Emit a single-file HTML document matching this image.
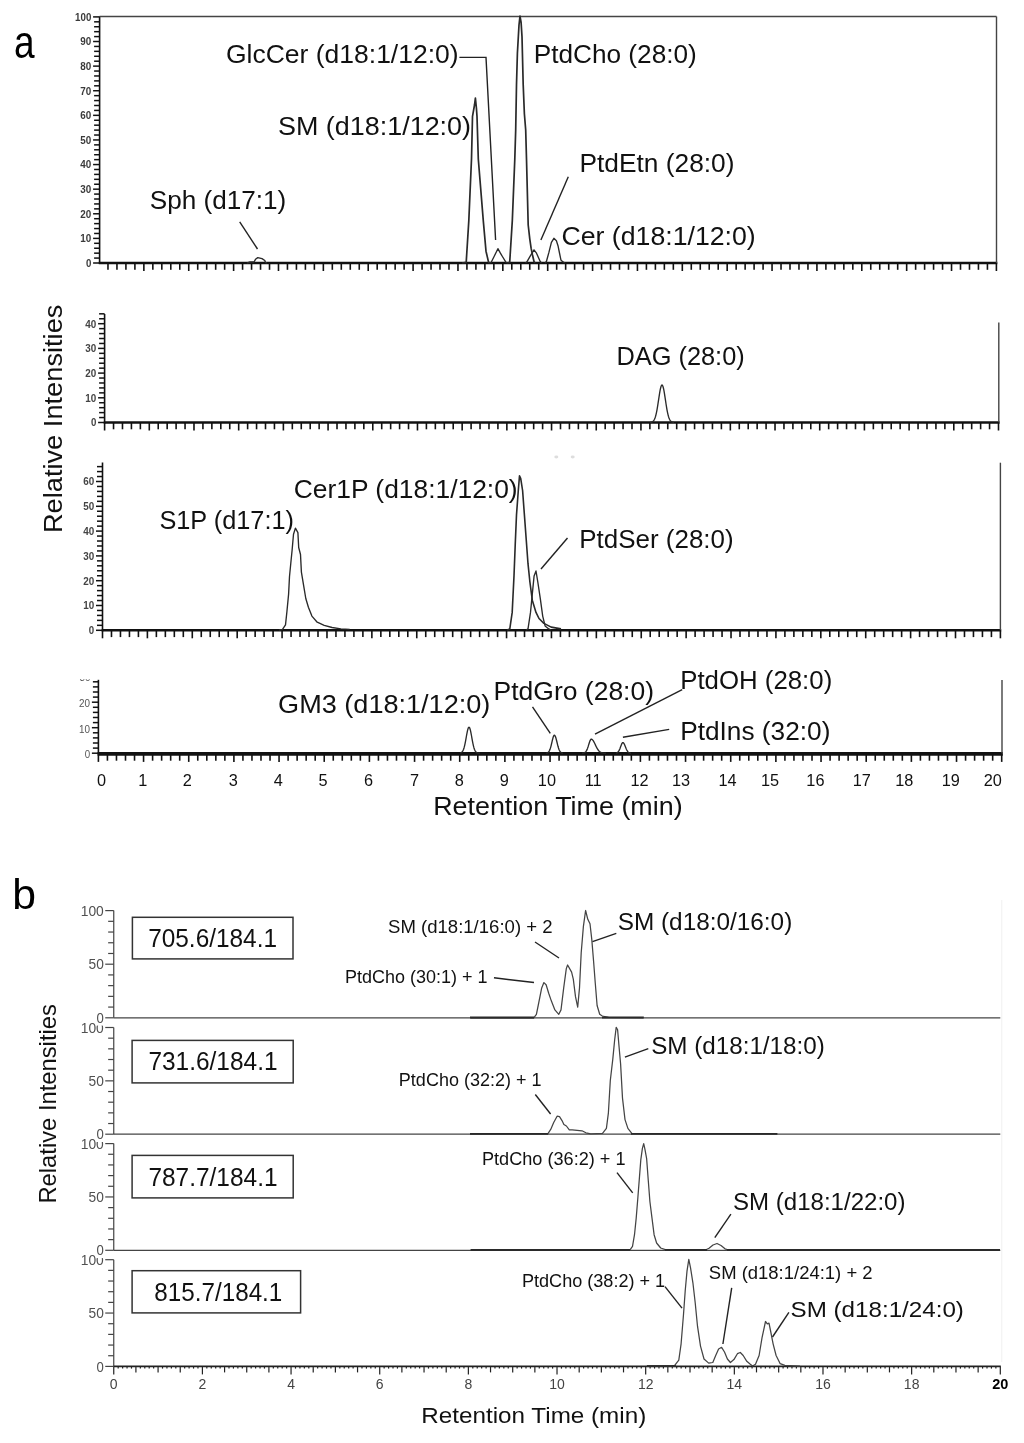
<!DOCTYPE html>
<html><head><meta charset="utf-8"><style>html,body{margin:0;padding:0;background:#fff}svg{display:block;filter:grayscale(100%)}text{font-family:"Liberation Sans",sans-serif}</style></head>
<body><svg width="1024" height="1443" viewBox="0 0 1024 1443">
<rect width="1024" height="1443" fill="#fff"/>
<line x1="99.6" y1="16.5" x2="99.6" y2="264" stroke="#111" stroke-width="1.6"/>
<line x1="98.8" y1="263" x2="997.3" y2="263" stroke="#111" stroke-width="2.6"/>
<line x1="996.5" y1="16.5" x2="996.5" y2="263" stroke="#444" stroke-width="1.4"/>
<line x1="99.6" y1="16.5" x2="996.5" y2="16.5" stroke="#444" stroke-width="1.6"/>
<line x1="107.97" y1="263" x2="107.97" y2="269.8" stroke="#111" stroke-width="1.6"/>
<line x1="116.95" y1="263" x2="116.95" y2="269.8" stroke="#111" stroke-width="1.6"/>
<line x1="125.92" y1="263" x2="125.92" y2="269.8" stroke="#111" stroke-width="1.6"/>
<line x1="134.90" y1="263" x2="134.90" y2="269.8" stroke="#111" stroke-width="1.6"/>
<line x1="143.87" y1="263" x2="143.87" y2="271" stroke="#111" stroke-width="1.6"/>
<line x1="152.84" y1="263" x2="152.84" y2="269.8" stroke="#111" stroke-width="1.6"/>
<line x1="161.82" y1="263" x2="161.82" y2="269.8" stroke="#111" stroke-width="1.6"/>
<line x1="170.79" y1="263" x2="170.79" y2="269.8" stroke="#111" stroke-width="1.6"/>
<line x1="179.77" y1="263" x2="179.77" y2="269.8" stroke="#111" stroke-width="1.6"/>
<line x1="188.74" y1="263" x2="188.74" y2="271" stroke="#111" stroke-width="1.6"/>
<line x1="197.71" y1="263" x2="197.71" y2="269.8" stroke="#111" stroke-width="1.6"/>
<line x1="206.69" y1="263" x2="206.69" y2="269.8" stroke="#111" stroke-width="1.6"/>
<line x1="215.66" y1="263" x2="215.66" y2="269.8" stroke="#111" stroke-width="1.6"/>
<line x1="224.64" y1="263" x2="224.64" y2="269.8" stroke="#111" stroke-width="1.6"/>
<line x1="233.61" y1="263" x2="233.61" y2="271" stroke="#111" stroke-width="1.6"/>
<line x1="242.58" y1="263" x2="242.58" y2="269.8" stroke="#111" stroke-width="1.6"/>
<line x1="251.56" y1="263" x2="251.56" y2="269.8" stroke="#111" stroke-width="1.6"/>
<line x1="260.53" y1="263" x2="260.53" y2="269.8" stroke="#111" stroke-width="1.6"/>
<line x1="269.51" y1="263" x2="269.51" y2="269.8" stroke="#111" stroke-width="1.6"/>
<line x1="278.48" y1="263" x2="278.48" y2="271" stroke="#111" stroke-width="1.6"/>
<line x1="287.45" y1="263" x2="287.45" y2="269.8" stroke="#111" stroke-width="1.6"/>
<line x1="296.43" y1="263" x2="296.43" y2="269.8" stroke="#111" stroke-width="1.6"/>
<line x1="305.40" y1="263" x2="305.40" y2="269.8" stroke="#111" stroke-width="1.6"/>
<line x1="314.38" y1="263" x2="314.38" y2="269.8" stroke="#111" stroke-width="1.6"/>
<line x1="323.35" y1="263" x2="323.35" y2="271" stroke="#111" stroke-width="1.6"/>
<line x1="332.32" y1="263" x2="332.32" y2="269.8" stroke="#111" stroke-width="1.6"/>
<line x1="341.30" y1="263" x2="341.30" y2="269.8" stroke="#111" stroke-width="1.6"/>
<line x1="350.27" y1="263" x2="350.27" y2="269.8" stroke="#111" stroke-width="1.6"/>
<line x1="359.25" y1="263" x2="359.25" y2="269.8" stroke="#111" stroke-width="1.6"/>
<line x1="368.22" y1="263" x2="368.22" y2="271" stroke="#111" stroke-width="1.6"/>
<line x1="377.19" y1="263" x2="377.19" y2="269.8" stroke="#111" stroke-width="1.6"/>
<line x1="386.17" y1="263" x2="386.17" y2="269.8" stroke="#111" stroke-width="1.6"/>
<line x1="395.14" y1="263" x2="395.14" y2="269.8" stroke="#111" stroke-width="1.6"/>
<line x1="404.12" y1="263" x2="404.12" y2="269.8" stroke="#111" stroke-width="1.6"/>
<line x1="413.09" y1="263" x2="413.09" y2="271" stroke="#111" stroke-width="1.6"/>
<line x1="422.06" y1="263" x2="422.06" y2="269.8" stroke="#111" stroke-width="1.6"/>
<line x1="431.04" y1="263" x2="431.04" y2="269.8" stroke="#111" stroke-width="1.6"/>
<line x1="440.01" y1="263" x2="440.01" y2="269.8" stroke="#111" stroke-width="1.6"/>
<line x1="448.99" y1="263" x2="448.99" y2="269.8" stroke="#111" stroke-width="1.6"/>
<line x1="457.96" y1="263" x2="457.96" y2="271" stroke="#111" stroke-width="1.6"/>
<line x1="466.93" y1="263" x2="466.93" y2="269.8" stroke="#111" stroke-width="1.6"/>
<line x1="475.91" y1="263" x2="475.91" y2="269.8" stroke="#111" stroke-width="1.6"/>
<line x1="484.88" y1="263" x2="484.88" y2="269.8" stroke="#111" stroke-width="1.6"/>
<line x1="493.86" y1="263" x2="493.86" y2="269.8" stroke="#111" stroke-width="1.6"/>
<line x1="502.83" y1="263" x2="502.83" y2="271" stroke="#111" stroke-width="1.6"/>
<line x1="511.80" y1="263" x2="511.80" y2="269.8" stroke="#111" stroke-width="1.6"/>
<line x1="520.78" y1="263" x2="520.78" y2="269.8" stroke="#111" stroke-width="1.6"/>
<line x1="529.75" y1="263" x2="529.75" y2="269.8" stroke="#111" stroke-width="1.6"/>
<line x1="538.73" y1="263" x2="538.73" y2="269.8" stroke="#111" stroke-width="1.6"/>
<line x1="547.70" y1="263" x2="547.70" y2="271" stroke="#111" stroke-width="1.6"/>
<line x1="556.67" y1="263" x2="556.67" y2="269.8" stroke="#111" stroke-width="1.6"/>
<line x1="565.65" y1="263" x2="565.65" y2="269.8" stroke="#111" stroke-width="1.6"/>
<line x1="574.62" y1="263" x2="574.62" y2="269.8" stroke="#111" stroke-width="1.6"/>
<line x1="583.60" y1="263" x2="583.60" y2="269.8" stroke="#111" stroke-width="1.6"/>
<line x1="592.57" y1="263" x2="592.57" y2="271" stroke="#111" stroke-width="1.6"/>
<line x1="601.54" y1="263" x2="601.54" y2="269.8" stroke="#111" stroke-width="1.6"/>
<line x1="610.52" y1="263" x2="610.52" y2="269.8" stroke="#111" stroke-width="1.6"/>
<line x1="619.49" y1="263" x2="619.49" y2="269.8" stroke="#111" stroke-width="1.6"/>
<line x1="628.47" y1="263" x2="628.47" y2="269.8" stroke="#111" stroke-width="1.6"/>
<line x1="637.44" y1="263" x2="637.44" y2="271" stroke="#111" stroke-width="1.6"/>
<line x1="646.41" y1="263" x2="646.41" y2="269.8" stroke="#111" stroke-width="1.6"/>
<line x1="655.39" y1="263" x2="655.39" y2="269.8" stroke="#111" stroke-width="1.6"/>
<line x1="664.36" y1="263" x2="664.36" y2="269.8" stroke="#111" stroke-width="1.6"/>
<line x1="673.34" y1="263" x2="673.34" y2="269.8" stroke="#111" stroke-width="1.6"/>
<line x1="682.31" y1="263" x2="682.31" y2="271" stroke="#111" stroke-width="1.6"/>
<line x1="691.28" y1="263" x2="691.28" y2="269.8" stroke="#111" stroke-width="1.6"/>
<line x1="700.26" y1="263" x2="700.26" y2="269.8" stroke="#111" stroke-width="1.6"/>
<line x1="709.23" y1="263" x2="709.23" y2="269.8" stroke="#111" stroke-width="1.6"/>
<line x1="718.21" y1="263" x2="718.21" y2="269.8" stroke="#111" stroke-width="1.6"/>
<line x1="727.18" y1="263" x2="727.18" y2="271" stroke="#111" stroke-width="1.6"/>
<line x1="736.15" y1="263" x2="736.15" y2="269.8" stroke="#111" stroke-width="1.6"/>
<line x1="745.13" y1="263" x2="745.13" y2="269.8" stroke="#111" stroke-width="1.6"/>
<line x1="754.10" y1="263" x2="754.10" y2="269.8" stroke="#111" stroke-width="1.6"/>
<line x1="763.08" y1="263" x2="763.08" y2="269.8" stroke="#111" stroke-width="1.6"/>
<line x1="772.05" y1="263" x2="772.05" y2="271" stroke="#111" stroke-width="1.6"/>
<line x1="781.02" y1="263" x2="781.02" y2="269.8" stroke="#111" stroke-width="1.6"/>
<line x1="790.00" y1="263" x2="790.00" y2="269.8" stroke="#111" stroke-width="1.6"/>
<line x1="798.97" y1="263" x2="798.97" y2="269.8" stroke="#111" stroke-width="1.6"/>
<line x1="807.95" y1="263" x2="807.95" y2="269.8" stroke="#111" stroke-width="1.6"/>
<line x1="816.92" y1="263" x2="816.92" y2="271" stroke="#111" stroke-width="1.6"/>
<line x1="825.89" y1="263" x2="825.89" y2="269.8" stroke="#111" stroke-width="1.6"/>
<line x1="834.87" y1="263" x2="834.87" y2="269.8" stroke="#111" stroke-width="1.6"/>
<line x1="843.84" y1="263" x2="843.84" y2="269.8" stroke="#111" stroke-width="1.6"/>
<line x1="852.82" y1="263" x2="852.82" y2="269.8" stroke="#111" stroke-width="1.6"/>
<line x1="861.79" y1="263" x2="861.79" y2="271" stroke="#111" stroke-width="1.6"/>
<line x1="870.76" y1="263" x2="870.76" y2="269.8" stroke="#111" stroke-width="1.6"/>
<line x1="879.74" y1="263" x2="879.74" y2="269.8" stroke="#111" stroke-width="1.6"/>
<line x1="888.71" y1="263" x2="888.71" y2="269.8" stroke="#111" stroke-width="1.6"/>
<line x1="897.69" y1="263" x2="897.69" y2="269.8" stroke="#111" stroke-width="1.6"/>
<line x1="906.66" y1="263" x2="906.66" y2="271" stroke="#111" stroke-width="1.6"/>
<line x1="915.63" y1="263" x2="915.63" y2="269.8" stroke="#111" stroke-width="1.6"/>
<line x1="924.61" y1="263" x2="924.61" y2="269.8" stroke="#111" stroke-width="1.6"/>
<line x1="933.58" y1="263" x2="933.58" y2="269.8" stroke="#111" stroke-width="1.6"/>
<line x1="942.56" y1="263" x2="942.56" y2="269.8" stroke="#111" stroke-width="1.6"/>
<line x1="951.53" y1="263" x2="951.53" y2="271" stroke="#111" stroke-width="1.6"/>
<line x1="960.50" y1="263" x2="960.50" y2="269.8" stroke="#111" stroke-width="1.6"/>
<line x1="969.48" y1="263" x2="969.48" y2="269.8" stroke="#111" stroke-width="1.6"/>
<line x1="978.45" y1="263" x2="978.45" y2="269.8" stroke="#111" stroke-width="1.6"/>
<line x1="987.43" y1="263" x2="987.43" y2="269.8" stroke="#111" stroke-width="1.6"/>
<line x1="996.40" y1="263" x2="996.40" y2="271" stroke="#111" stroke-width="1.6"/>
<line x1="93.10" y1="263.00" x2="99.6" y2="263.00" stroke="#111" stroke-width="1.5"/>
<line x1="94.10" y1="258.08" x2="99.6" y2="258.08" stroke="#111" stroke-width="1.5"/>
<line x1="94.10" y1="253.16" x2="99.6" y2="253.16" stroke="#111" stroke-width="1.5"/>
<line x1="94.10" y1="248.23" x2="99.6" y2="248.23" stroke="#111" stroke-width="1.5"/>
<line x1="94.10" y1="243.31" x2="99.6" y2="243.31" stroke="#111" stroke-width="1.5"/>
<line x1="93.10" y1="238.39" x2="99.6" y2="238.39" stroke="#111" stroke-width="1.5"/>
<line x1="94.10" y1="233.47" x2="99.6" y2="233.47" stroke="#111" stroke-width="1.5"/>
<line x1="94.10" y1="228.55" x2="99.6" y2="228.55" stroke="#111" stroke-width="1.5"/>
<line x1="94.10" y1="223.62" x2="99.6" y2="223.62" stroke="#111" stroke-width="1.5"/>
<line x1="94.10" y1="218.70" x2="99.6" y2="218.70" stroke="#111" stroke-width="1.5"/>
<line x1="93.10" y1="213.78" x2="99.6" y2="213.78" stroke="#111" stroke-width="1.5"/>
<line x1="94.10" y1="208.86" x2="99.6" y2="208.86" stroke="#111" stroke-width="1.5"/>
<line x1="94.10" y1="203.94" x2="99.6" y2="203.94" stroke="#111" stroke-width="1.5"/>
<line x1="94.10" y1="199.01" x2="99.6" y2="199.01" stroke="#111" stroke-width="1.5"/>
<line x1="94.10" y1="194.09" x2="99.6" y2="194.09" stroke="#111" stroke-width="1.5"/>
<line x1="93.10" y1="189.17" x2="99.6" y2="189.17" stroke="#111" stroke-width="1.5"/>
<line x1="94.10" y1="184.25" x2="99.6" y2="184.25" stroke="#111" stroke-width="1.5"/>
<line x1="94.10" y1="179.33" x2="99.6" y2="179.33" stroke="#111" stroke-width="1.5"/>
<line x1="94.10" y1="174.40" x2="99.6" y2="174.40" stroke="#111" stroke-width="1.5"/>
<line x1="94.10" y1="169.48" x2="99.6" y2="169.48" stroke="#111" stroke-width="1.5"/>
<line x1="93.10" y1="164.56" x2="99.6" y2="164.56" stroke="#111" stroke-width="1.5"/>
<line x1="94.10" y1="159.64" x2="99.6" y2="159.64" stroke="#111" stroke-width="1.5"/>
<line x1="94.10" y1="154.72" x2="99.6" y2="154.72" stroke="#111" stroke-width="1.5"/>
<line x1="94.10" y1="149.79" x2="99.6" y2="149.79" stroke="#111" stroke-width="1.5"/>
<line x1="94.10" y1="144.87" x2="99.6" y2="144.87" stroke="#111" stroke-width="1.5"/>
<line x1="93.10" y1="139.95" x2="99.6" y2="139.95" stroke="#111" stroke-width="1.5"/>
<line x1="94.10" y1="135.03" x2="99.6" y2="135.03" stroke="#111" stroke-width="1.5"/>
<line x1="94.10" y1="130.11" x2="99.6" y2="130.11" stroke="#111" stroke-width="1.5"/>
<line x1="94.10" y1="125.18" x2="99.6" y2="125.18" stroke="#111" stroke-width="1.5"/>
<line x1="94.10" y1="120.26" x2="99.6" y2="120.26" stroke="#111" stroke-width="1.5"/>
<line x1="93.10" y1="115.34" x2="99.6" y2="115.34" stroke="#111" stroke-width="1.5"/>
<line x1="94.10" y1="110.42" x2="99.6" y2="110.42" stroke="#111" stroke-width="1.5"/>
<line x1="94.10" y1="105.50" x2="99.6" y2="105.50" stroke="#111" stroke-width="1.5"/>
<line x1="94.10" y1="100.57" x2="99.6" y2="100.57" stroke="#111" stroke-width="1.5"/>
<line x1="94.10" y1="95.65" x2="99.6" y2="95.65" stroke="#111" stroke-width="1.5"/>
<line x1="93.10" y1="90.73" x2="99.6" y2="90.73" stroke="#111" stroke-width="1.5"/>
<line x1="94.10" y1="85.81" x2="99.6" y2="85.81" stroke="#111" stroke-width="1.5"/>
<line x1="94.10" y1="80.89" x2="99.6" y2="80.89" stroke="#111" stroke-width="1.5"/>
<line x1="94.10" y1="75.96" x2="99.6" y2="75.96" stroke="#111" stroke-width="1.5"/>
<line x1="94.10" y1="71.04" x2="99.6" y2="71.04" stroke="#111" stroke-width="1.5"/>
<line x1="93.10" y1="66.12" x2="99.6" y2="66.12" stroke="#111" stroke-width="1.5"/>
<line x1="94.10" y1="61.20" x2="99.6" y2="61.20" stroke="#111" stroke-width="1.5"/>
<line x1="94.10" y1="56.28" x2="99.6" y2="56.28" stroke="#111" stroke-width="1.5"/>
<line x1="94.10" y1="51.35" x2="99.6" y2="51.35" stroke="#111" stroke-width="1.5"/>
<line x1="94.10" y1="46.43" x2="99.6" y2="46.43" stroke="#111" stroke-width="1.5"/>
<line x1="93.10" y1="41.51" x2="99.6" y2="41.51" stroke="#111" stroke-width="1.5"/>
<line x1="94.10" y1="36.59" x2="99.6" y2="36.59" stroke="#111" stroke-width="1.5"/>
<line x1="94.10" y1="31.67" x2="99.6" y2="31.67" stroke="#111" stroke-width="1.5"/>
<line x1="94.10" y1="26.74" x2="99.6" y2="26.74" stroke="#111" stroke-width="1.5"/>
<line x1="94.10" y1="21.82" x2="99.6" y2="21.82" stroke="#111" stroke-width="1.5"/>
<line x1="93.10" y1="16.90" x2="99.6" y2="16.90" stroke="#111" stroke-width="1.5"/>
<text x="85.90" y="266.90" font-size="10.8" font-weight="700" fill="#3a3a3a" textLength="5.4" lengthAdjust="spacingAndGlyphs">0</text>
<text x="80.30" y="242.29" font-size="10.8" font-weight="700" fill="#3a3a3a" textLength="11.0" lengthAdjust="spacingAndGlyphs">10</text>
<text x="80.30" y="217.68" font-size="10.8" font-weight="700" fill="#3a3a3a" textLength="11.0" lengthAdjust="spacingAndGlyphs">20</text>
<text x="80.30" y="193.07" font-size="10.8" font-weight="700" fill="#3a3a3a" textLength="11.0" lengthAdjust="spacingAndGlyphs">30</text>
<text x="80.30" y="168.46" font-size="10.8" font-weight="700" fill="#3a3a3a" textLength="11.0" lengthAdjust="spacingAndGlyphs">40</text>
<text x="80.30" y="143.85" font-size="10.8" font-weight="700" fill="#3a3a3a" textLength="11.0" lengthAdjust="spacingAndGlyphs">50</text>
<text x="80.30" y="119.24" font-size="10.8" font-weight="700" fill="#3a3a3a" textLength="11.0" lengthAdjust="spacingAndGlyphs">60</text>
<text x="80.30" y="94.63" font-size="10.8" font-weight="700" fill="#3a3a3a" textLength="11.0" lengthAdjust="spacingAndGlyphs">70</text>
<text x="80.30" y="70.02" font-size="10.8" font-weight="700" fill="#3a3a3a" textLength="11.0" lengthAdjust="spacingAndGlyphs">80</text>
<text x="80.30" y="45.41" font-size="10.8" font-weight="700" fill="#3a3a3a" textLength="11.0" lengthAdjust="spacingAndGlyphs">90</text>
<text x="75.10" y="20.80" font-size="10.8" font-weight="700" fill="#3a3a3a" textLength="16.2" lengthAdjust="spacingAndGlyphs">100</text>
<line x1="104.6" y1="314" x2="104.6" y2="423.5" stroke="#111" stroke-width="1.6"/>
<line x1="103.8" y1="422.5" x2="999.5999999999999" y2="422.5" stroke="#111" stroke-width="2.6"/>
<line x1="998.8" y1="322.5" x2="998.8" y2="422.5" stroke="#444" stroke-width="1.4"/>
<line x1="104.60" y1="422.5" x2="104.60" y2="430.5" stroke="#111" stroke-width="1.6"/>
<line x1="113.54" y1="422.5" x2="113.54" y2="429.3" stroke="#111" stroke-width="1.6"/>
<line x1="122.48" y1="422.5" x2="122.48" y2="429.3" stroke="#111" stroke-width="1.6"/>
<line x1="131.42" y1="422.5" x2="131.42" y2="429.3" stroke="#111" stroke-width="1.6"/>
<line x1="140.36" y1="422.5" x2="140.36" y2="429.3" stroke="#111" stroke-width="1.6"/>
<line x1="149.29" y1="422.5" x2="149.29" y2="430.5" stroke="#111" stroke-width="1.6"/>
<line x1="158.23" y1="422.5" x2="158.23" y2="429.3" stroke="#111" stroke-width="1.6"/>
<line x1="167.17" y1="422.5" x2="167.17" y2="429.3" stroke="#111" stroke-width="1.6"/>
<line x1="176.11" y1="422.5" x2="176.11" y2="429.3" stroke="#111" stroke-width="1.6"/>
<line x1="185.05" y1="422.5" x2="185.05" y2="429.3" stroke="#111" stroke-width="1.6"/>
<line x1="193.99" y1="422.5" x2="193.99" y2="430.5" stroke="#111" stroke-width="1.6"/>
<line x1="202.93" y1="422.5" x2="202.93" y2="429.3" stroke="#111" stroke-width="1.6"/>
<line x1="211.87" y1="422.5" x2="211.87" y2="429.3" stroke="#111" stroke-width="1.6"/>
<line x1="220.81" y1="422.5" x2="220.81" y2="429.3" stroke="#111" stroke-width="1.6"/>
<line x1="229.75" y1="422.5" x2="229.75" y2="429.3" stroke="#111" stroke-width="1.6"/>
<line x1="238.68" y1="422.5" x2="238.68" y2="430.5" stroke="#111" stroke-width="1.6"/>
<line x1="247.62" y1="422.5" x2="247.62" y2="429.3" stroke="#111" stroke-width="1.6"/>
<line x1="256.56" y1="422.5" x2="256.56" y2="429.3" stroke="#111" stroke-width="1.6"/>
<line x1="265.50" y1="422.5" x2="265.50" y2="429.3" stroke="#111" stroke-width="1.6"/>
<line x1="274.44" y1="422.5" x2="274.44" y2="429.3" stroke="#111" stroke-width="1.6"/>
<line x1="283.38" y1="422.5" x2="283.38" y2="430.5" stroke="#111" stroke-width="1.6"/>
<line x1="292.32" y1="422.5" x2="292.32" y2="429.3" stroke="#111" stroke-width="1.6"/>
<line x1="301.26" y1="422.5" x2="301.26" y2="429.3" stroke="#111" stroke-width="1.6"/>
<line x1="310.20" y1="422.5" x2="310.20" y2="429.3" stroke="#111" stroke-width="1.6"/>
<line x1="319.14" y1="422.5" x2="319.14" y2="429.3" stroke="#111" stroke-width="1.6"/>
<line x1="328.07" y1="422.5" x2="328.07" y2="430.5" stroke="#111" stroke-width="1.6"/>
<line x1="337.01" y1="422.5" x2="337.01" y2="429.3" stroke="#111" stroke-width="1.6"/>
<line x1="345.95" y1="422.5" x2="345.95" y2="429.3" stroke="#111" stroke-width="1.6"/>
<line x1="354.89" y1="422.5" x2="354.89" y2="429.3" stroke="#111" stroke-width="1.6"/>
<line x1="363.83" y1="422.5" x2="363.83" y2="429.3" stroke="#111" stroke-width="1.6"/>
<line x1="372.77" y1="422.5" x2="372.77" y2="430.5" stroke="#111" stroke-width="1.6"/>
<line x1="381.71" y1="422.5" x2="381.71" y2="429.3" stroke="#111" stroke-width="1.6"/>
<line x1="390.65" y1="422.5" x2="390.65" y2="429.3" stroke="#111" stroke-width="1.6"/>
<line x1="399.59" y1="422.5" x2="399.59" y2="429.3" stroke="#111" stroke-width="1.6"/>
<line x1="408.53" y1="422.5" x2="408.53" y2="429.3" stroke="#111" stroke-width="1.6"/>
<line x1="417.47" y1="422.5" x2="417.47" y2="430.5" stroke="#111" stroke-width="1.6"/>
<line x1="426.40" y1="422.5" x2="426.40" y2="429.3" stroke="#111" stroke-width="1.6"/>
<line x1="435.34" y1="422.5" x2="435.34" y2="429.3" stroke="#111" stroke-width="1.6"/>
<line x1="444.28" y1="422.5" x2="444.28" y2="429.3" stroke="#111" stroke-width="1.6"/>
<line x1="453.22" y1="422.5" x2="453.22" y2="429.3" stroke="#111" stroke-width="1.6"/>
<line x1="462.16" y1="422.5" x2="462.16" y2="430.5" stroke="#111" stroke-width="1.6"/>
<line x1="471.10" y1="422.5" x2="471.10" y2="429.3" stroke="#111" stroke-width="1.6"/>
<line x1="480.04" y1="422.5" x2="480.04" y2="429.3" stroke="#111" stroke-width="1.6"/>
<line x1="488.98" y1="422.5" x2="488.98" y2="429.3" stroke="#111" stroke-width="1.6"/>
<line x1="497.92" y1="422.5" x2="497.92" y2="429.3" stroke="#111" stroke-width="1.6"/>
<line x1="506.86" y1="422.5" x2="506.86" y2="430.5" stroke="#111" stroke-width="1.6"/>
<line x1="515.79" y1="422.5" x2="515.79" y2="429.3" stroke="#111" stroke-width="1.6"/>
<line x1="524.73" y1="422.5" x2="524.73" y2="429.3" stroke="#111" stroke-width="1.6"/>
<line x1="533.67" y1="422.5" x2="533.67" y2="429.3" stroke="#111" stroke-width="1.6"/>
<line x1="542.61" y1="422.5" x2="542.61" y2="429.3" stroke="#111" stroke-width="1.6"/>
<line x1="551.55" y1="422.5" x2="551.55" y2="430.5" stroke="#111" stroke-width="1.6"/>
<line x1="560.49" y1="422.5" x2="560.49" y2="429.3" stroke="#111" stroke-width="1.6"/>
<line x1="569.43" y1="422.5" x2="569.43" y2="429.3" stroke="#111" stroke-width="1.6"/>
<line x1="578.37" y1="422.5" x2="578.37" y2="429.3" stroke="#111" stroke-width="1.6"/>
<line x1="587.31" y1="422.5" x2="587.31" y2="429.3" stroke="#111" stroke-width="1.6"/>
<line x1="596.25" y1="422.5" x2="596.25" y2="430.5" stroke="#111" stroke-width="1.6"/>
<line x1="605.18" y1="422.5" x2="605.18" y2="429.3" stroke="#111" stroke-width="1.6"/>
<line x1="614.12" y1="422.5" x2="614.12" y2="429.3" stroke="#111" stroke-width="1.6"/>
<line x1="623.06" y1="422.5" x2="623.06" y2="429.3" stroke="#111" stroke-width="1.6"/>
<line x1="632.00" y1="422.5" x2="632.00" y2="429.3" stroke="#111" stroke-width="1.6"/>
<line x1="640.94" y1="422.5" x2="640.94" y2="430.5" stroke="#111" stroke-width="1.6"/>
<line x1="649.88" y1="422.5" x2="649.88" y2="429.3" stroke="#111" stroke-width="1.6"/>
<line x1="658.82" y1="422.5" x2="658.82" y2="429.3" stroke="#111" stroke-width="1.6"/>
<line x1="667.76" y1="422.5" x2="667.76" y2="429.3" stroke="#111" stroke-width="1.6"/>
<line x1="676.70" y1="422.5" x2="676.70" y2="429.3" stroke="#111" stroke-width="1.6"/>
<line x1="685.64" y1="422.5" x2="685.64" y2="430.5" stroke="#111" stroke-width="1.6"/>
<line x1="694.57" y1="422.5" x2="694.57" y2="429.3" stroke="#111" stroke-width="1.6"/>
<line x1="703.51" y1="422.5" x2="703.51" y2="429.3" stroke="#111" stroke-width="1.6"/>
<line x1="712.45" y1="422.5" x2="712.45" y2="429.3" stroke="#111" stroke-width="1.6"/>
<line x1="721.39" y1="422.5" x2="721.39" y2="429.3" stroke="#111" stroke-width="1.6"/>
<line x1="730.33" y1="422.5" x2="730.33" y2="430.5" stroke="#111" stroke-width="1.6"/>
<line x1="739.27" y1="422.5" x2="739.27" y2="429.3" stroke="#111" stroke-width="1.6"/>
<line x1="748.21" y1="422.5" x2="748.21" y2="429.3" stroke="#111" stroke-width="1.6"/>
<line x1="757.15" y1="422.5" x2="757.15" y2="429.3" stroke="#111" stroke-width="1.6"/>
<line x1="766.09" y1="422.5" x2="766.09" y2="429.3" stroke="#111" stroke-width="1.6"/>
<line x1="775.02" y1="422.5" x2="775.02" y2="430.5" stroke="#111" stroke-width="1.6"/>
<line x1="783.96" y1="422.5" x2="783.96" y2="429.3" stroke="#111" stroke-width="1.6"/>
<line x1="792.90" y1="422.5" x2="792.90" y2="429.3" stroke="#111" stroke-width="1.6"/>
<line x1="801.84" y1="422.5" x2="801.84" y2="429.3" stroke="#111" stroke-width="1.6"/>
<line x1="810.78" y1="422.5" x2="810.78" y2="429.3" stroke="#111" stroke-width="1.6"/>
<line x1="819.72" y1="422.5" x2="819.72" y2="430.5" stroke="#111" stroke-width="1.6"/>
<line x1="828.66" y1="422.5" x2="828.66" y2="429.3" stroke="#111" stroke-width="1.6"/>
<line x1="837.60" y1="422.5" x2="837.60" y2="429.3" stroke="#111" stroke-width="1.6"/>
<line x1="846.54" y1="422.5" x2="846.54" y2="429.3" stroke="#111" stroke-width="1.6"/>
<line x1="855.48" y1="422.5" x2="855.48" y2="429.3" stroke="#111" stroke-width="1.6"/>
<line x1="864.41" y1="422.5" x2="864.41" y2="430.5" stroke="#111" stroke-width="1.6"/>
<line x1="873.35" y1="422.5" x2="873.35" y2="429.3" stroke="#111" stroke-width="1.6"/>
<line x1="882.29" y1="422.5" x2="882.29" y2="429.3" stroke="#111" stroke-width="1.6"/>
<line x1="891.23" y1="422.5" x2="891.23" y2="429.3" stroke="#111" stroke-width="1.6"/>
<line x1="900.17" y1="422.5" x2="900.17" y2="429.3" stroke="#111" stroke-width="1.6"/>
<line x1="909.11" y1="422.5" x2="909.11" y2="430.5" stroke="#111" stroke-width="1.6"/>
<line x1="918.05" y1="422.5" x2="918.05" y2="429.3" stroke="#111" stroke-width="1.6"/>
<line x1="926.99" y1="422.5" x2="926.99" y2="429.3" stroke="#111" stroke-width="1.6"/>
<line x1="935.93" y1="422.5" x2="935.93" y2="429.3" stroke="#111" stroke-width="1.6"/>
<line x1="944.87" y1="422.5" x2="944.87" y2="429.3" stroke="#111" stroke-width="1.6"/>
<line x1="953.80" y1="422.5" x2="953.80" y2="430.5" stroke="#111" stroke-width="1.6"/>
<line x1="962.74" y1="422.5" x2="962.74" y2="429.3" stroke="#111" stroke-width="1.6"/>
<line x1="971.68" y1="422.5" x2="971.68" y2="429.3" stroke="#111" stroke-width="1.6"/>
<line x1="980.62" y1="422.5" x2="980.62" y2="429.3" stroke="#111" stroke-width="1.6"/>
<line x1="989.56" y1="422.5" x2="989.56" y2="429.3" stroke="#111" stroke-width="1.6"/>
<line x1="998.50" y1="422.5" x2="998.50" y2="430.5" stroke="#111" stroke-width="1.6"/>
<line x1="98.10" y1="422.50" x2="104.6" y2="422.50" stroke="#111" stroke-width="1.5"/>
<line x1="99.10" y1="417.56" x2="104.6" y2="417.56" stroke="#111" stroke-width="1.5"/>
<line x1="99.10" y1="412.62" x2="104.6" y2="412.62" stroke="#111" stroke-width="1.5"/>
<line x1="99.10" y1="407.68" x2="104.6" y2="407.68" stroke="#111" stroke-width="1.5"/>
<line x1="99.10" y1="402.74" x2="104.6" y2="402.74" stroke="#111" stroke-width="1.5"/>
<line x1="98.10" y1="397.80" x2="104.6" y2="397.80" stroke="#111" stroke-width="1.5"/>
<line x1="99.10" y1="392.86" x2="104.6" y2="392.86" stroke="#111" stroke-width="1.5"/>
<line x1="99.10" y1="387.92" x2="104.6" y2="387.92" stroke="#111" stroke-width="1.5"/>
<line x1="99.10" y1="382.98" x2="104.6" y2="382.98" stroke="#111" stroke-width="1.5"/>
<line x1="99.10" y1="378.04" x2="104.6" y2="378.04" stroke="#111" stroke-width="1.5"/>
<line x1="98.10" y1="373.10" x2="104.6" y2="373.10" stroke="#111" stroke-width="1.5"/>
<line x1="99.10" y1="368.16" x2="104.6" y2="368.16" stroke="#111" stroke-width="1.5"/>
<line x1="99.10" y1="363.22" x2="104.6" y2="363.22" stroke="#111" stroke-width="1.5"/>
<line x1="99.10" y1="358.28" x2="104.6" y2="358.28" stroke="#111" stroke-width="1.5"/>
<line x1="99.10" y1="353.34" x2="104.6" y2="353.34" stroke="#111" stroke-width="1.5"/>
<line x1="98.10" y1="348.40" x2="104.6" y2="348.40" stroke="#111" stroke-width="1.5"/>
<line x1="99.10" y1="343.46" x2="104.6" y2="343.46" stroke="#111" stroke-width="1.5"/>
<line x1="99.10" y1="338.52" x2="104.6" y2="338.52" stroke="#111" stroke-width="1.5"/>
<line x1="99.10" y1="333.58" x2="104.6" y2="333.58" stroke="#111" stroke-width="1.5"/>
<line x1="99.10" y1="328.64" x2="104.6" y2="328.64" stroke="#111" stroke-width="1.5"/>
<line x1="98.10" y1="323.70" x2="104.6" y2="323.70" stroke="#111" stroke-width="1.5"/>
<line x1="99.10" y1="318.76" x2="104.6" y2="318.76" stroke="#111" stroke-width="1.5"/>
<line x1="99.10" y1="313.82" x2="104.6" y2="313.82" stroke="#111" stroke-width="1.5"/>
<text x="90.90" y="426.40" font-size="10.8" font-weight="700" fill="#444" textLength="5.4" lengthAdjust="spacingAndGlyphs">0</text>
<text x="85.30" y="401.70" font-size="10.8" font-weight="700" fill="#444" textLength="11.0" lengthAdjust="spacingAndGlyphs">10</text>
<text x="85.30" y="377.00" font-size="10.8" font-weight="700" fill="#444" textLength="11.0" lengthAdjust="spacingAndGlyphs">20</text>
<text x="85.30" y="352.30" font-size="10.8" font-weight="700" fill="#444" textLength="11.0" lengthAdjust="spacingAndGlyphs">30</text>
<text x="85.30" y="327.60" font-size="10.8" font-weight="700" fill="#444" textLength="11.0" lengthAdjust="spacingAndGlyphs">40</text>
<line x1="102.5" y1="462.5" x2="102.5" y2="631.3" stroke="#111" stroke-width="1.6"/>
<line x1="101.7" y1="630.3" x2="1001.1999999999999" y2="630.3" stroke="#111" stroke-width="2.6"/>
<line x1="1000.4" y1="462.7" x2="1000.4" y2="630.3" stroke="#444" stroke-width="1.4"/>
<line x1="102.50" y1="630.3" x2="102.50" y2="638.3" stroke="#111" stroke-width="1.6"/>
<line x1="111.48" y1="630.3" x2="111.48" y2="637.0999999999999" stroke="#111" stroke-width="1.6"/>
<line x1="120.46" y1="630.3" x2="120.46" y2="637.0999999999999" stroke="#111" stroke-width="1.6"/>
<line x1="129.44" y1="630.3" x2="129.44" y2="637.0999999999999" stroke="#111" stroke-width="1.6"/>
<line x1="138.42" y1="630.3" x2="138.42" y2="637.0999999999999" stroke="#111" stroke-width="1.6"/>
<line x1="147.39" y1="630.3" x2="147.39" y2="638.3" stroke="#111" stroke-width="1.6"/>
<line x1="156.37" y1="630.3" x2="156.37" y2="637.0999999999999" stroke="#111" stroke-width="1.6"/>
<line x1="165.35" y1="630.3" x2="165.35" y2="637.0999999999999" stroke="#111" stroke-width="1.6"/>
<line x1="174.33" y1="630.3" x2="174.33" y2="637.0999999999999" stroke="#111" stroke-width="1.6"/>
<line x1="183.31" y1="630.3" x2="183.31" y2="637.0999999999999" stroke="#111" stroke-width="1.6"/>
<line x1="192.29" y1="630.3" x2="192.29" y2="638.3" stroke="#111" stroke-width="1.6"/>
<line x1="201.27" y1="630.3" x2="201.27" y2="637.0999999999999" stroke="#111" stroke-width="1.6"/>
<line x1="210.25" y1="630.3" x2="210.25" y2="637.0999999999999" stroke="#111" stroke-width="1.6"/>
<line x1="219.23" y1="630.3" x2="219.23" y2="637.0999999999999" stroke="#111" stroke-width="1.6"/>
<line x1="228.21" y1="630.3" x2="228.21" y2="637.0999999999999" stroke="#111" stroke-width="1.6"/>
<line x1="237.19" y1="630.3" x2="237.19" y2="638.3" stroke="#111" stroke-width="1.6"/>
<line x1="246.16" y1="630.3" x2="246.16" y2="637.0999999999999" stroke="#111" stroke-width="1.6"/>
<line x1="255.14" y1="630.3" x2="255.14" y2="637.0999999999999" stroke="#111" stroke-width="1.6"/>
<line x1="264.12" y1="630.3" x2="264.12" y2="637.0999999999999" stroke="#111" stroke-width="1.6"/>
<line x1="273.10" y1="630.3" x2="273.10" y2="637.0999999999999" stroke="#111" stroke-width="1.6"/>
<line x1="282.08" y1="630.3" x2="282.08" y2="638.3" stroke="#111" stroke-width="1.6"/>
<line x1="291.06" y1="630.3" x2="291.06" y2="637.0999999999999" stroke="#111" stroke-width="1.6"/>
<line x1="300.04" y1="630.3" x2="300.04" y2="637.0999999999999" stroke="#111" stroke-width="1.6"/>
<line x1="309.02" y1="630.3" x2="309.02" y2="637.0999999999999" stroke="#111" stroke-width="1.6"/>
<line x1="318.00" y1="630.3" x2="318.00" y2="637.0999999999999" stroke="#111" stroke-width="1.6"/>
<line x1="326.98" y1="630.3" x2="326.98" y2="638.3" stroke="#111" stroke-width="1.6"/>
<line x1="335.95" y1="630.3" x2="335.95" y2="637.0999999999999" stroke="#111" stroke-width="1.6"/>
<line x1="344.93" y1="630.3" x2="344.93" y2="637.0999999999999" stroke="#111" stroke-width="1.6"/>
<line x1="353.91" y1="630.3" x2="353.91" y2="637.0999999999999" stroke="#111" stroke-width="1.6"/>
<line x1="362.89" y1="630.3" x2="362.89" y2="637.0999999999999" stroke="#111" stroke-width="1.6"/>
<line x1="371.87" y1="630.3" x2="371.87" y2="638.3" stroke="#111" stroke-width="1.6"/>
<line x1="380.85" y1="630.3" x2="380.85" y2="637.0999999999999" stroke="#111" stroke-width="1.6"/>
<line x1="389.83" y1="630.3" x2="389.83" y2="637.0999999999999" stroke="#111" stroke-width="1.6"/>
<line x1="398.81" y1="630.3" x2="398.81" y2="637.0999999999999" stroke="#111" stroke-width="1.6"/>
<line x1="407.79" y1="630.3" x2="407.79" y2="637.0999999999999" stroke="#111" stroke-width="1.6"/>
<line x1="416.76" y1="630.3" x2="416.76" y2="638.3" stroke="#111" stroke-width="1.6"/>
<line x1="425.74" y1="630.3" x2="425.74" y2="637.0999999999999" stroke="#111" stroke-width="1.6"/>
<line x1="434.72" y1="630.3" x2="434.72" y2="637.0999999999999" stroke="#111" stroke-width="1.6"/>
<line x1="443.70" y1="630.3" x2="443.70" y2="637.0999999999999" stroke="#111" stroke-width="1.6"/>
<line x1="452.68" y1="630.3" x2="452.68" y2="637.0999999999999" stroke="#111" stroke-width="1.6"/>
<line x1="461.66" y1="630.3" x2="461.66" y2="638.3" stroke="#111" stroke-width="1.6"/>
<line x1="470.64" y1="630.3" x2="470.64" y2="637.0999999999999" stroke="#111" stroke-width="1.6"/>
<line x1="479.62" y1="630.3" x2="479.62" y2="637.0999999999999" stroke="#111" stroke-width="1.6"/>
<line x1="488.60" y1="630.3" x2="488.60" y2="637.0999999999999" stroke="#111" stroke-width="1.6"/>
<line x1="497.58" y1="630.3" x2="497.58" y2="637.0999999999999" stroke="#111" stroke-width="1.6"/>
<line x1="506.55" y1="630.3" x2="506.55" y2="638.3" stroke="#111" stroke-width="1.6"/>
<line x1="515.53" y1="630.3" x2="515.53" y2="637.0999999999999" stroke="#111" stroke-width="1.6"/>
<line x1="524.51" y1="630.3" x2="524.51" y2="637.0999999999999" stroke="#111" stroke-width="1.6"/>
<line x1="533.49" y1="630.3" x2="533.49" y2="637.0999999999999" stroke="#111" stroke-width="1.6"/>
<line x1="542.47" y1="630.3" x2="542.47" y2="637.0999999999999" stroke="#111" stroke-width="1.6"/>
<line x1="551.45" y1="630.3" x2="551.45" y2="638.3" stroke="#111" stroke-width="1.6"/>
<line x1="560.43" y1="630.3" x2="560.43" y2="637.0999999999999" stroke="#111" stroke-width="1.6"/>
<line x1="569.41" y1="630.3" x2="569.41" y2="637.0999999999999" stroke="#111" stroke-width="1.6"/>
<line x1="578.39" y1="630.3" x2="578.39" y2="637.0999999999999" stroke="#111" stroke-width="1.6"/>
<line x1="587.37" y1="630.3" x2="587.37" y2="637.0999999999999" stroke="#111" stroke-width="1.6"/>
<line x1="596.35" y1="630.3" x2="596.35" y2="638.3" stroke="#111" stroke-width="1.6"/>
<line x1="605.32" y1="630.3" x2="605.32" y2="637.0999999999999" stroke="#111" stroke-width="1.6"/>
<line x1="614.30" y1="630.3" x2="614.30" y2="637.0999999999999" stroke="#111" stroke-width="1.6"/>
<line x1="623.28" y1="630.3" x2="623.28" y2="637.0999999999999" stroke="#111" stroke-width="1.6"/>
<line x1="632.26" y1="630.3" x2="632.26" y2="637.0999999999999" stroke="#111" stroke-width="1.6"/>
<line x1="641.24" y1="630.3" x2="641.24" y2="638.3" stroke="#111" stroke-width="1.6"/>
<line x1="650.22" y1="630.3" x2="650.22" y2="637.0999999999999" stroke="#111" stroke-width="1.6"/>
<line x1="659.20" y1="630.3" x2="659.20" y2="637.0999999999999" stroke="#111" stroke-width="1.6"/>
<line x1="668.18" y1="630.3" x2="668.18" y2="637.0999999999999" stroke="#111" stroke-width="1.6"/>
<line x1="677.16" y1="630.3" x2="677.16" y2="637.0999999999999" stroke="#111" stroke-width="1.6"/>
<line x1="686.13" y1="630.3" x2="686.13" y2="638.3" stroke="#111" stroke-width="1.6"/>
<line x1="695.11" y1="630.3" x2="695.11" y2="637.0999999999999" stroke="#111" stroke-width="1.6"/>
<line x1="704.09" y1="630.3" x2="704.09" y2="637.0999999999999" stroke="#111" stroke-width="1.6"/>
<line x1="713.07" y1="630.3" x2="713.07" y2="637.0999999999999" stroke="#111" stroke-width="1.6"/>
<line x1="722.05" y1="630.3" x2="722.05" y2="637.0999999999999" stroke="#111" stroke-width="1.6"/>
<line x1="731.03" y1="630.3" x2="731.03" y2="638.3" stroke="#111" stroke-width="1.6"/>
<line x1="740.01" y1="630.3" x2="740.01" y2="637.0999999999999" stroke="#111" stroke-width="1.6"/>
<line x1="748.99" y1="630.3" x2="748.99" y2="637.0999999999999" stroke="#111" stroke-width="1.6"/>
<line x1="757.97" y1="630.3" x2="757.97" y2="637.0999999999999" stroke="#111" stroke-width="1.6"/>
<line x1="766.95" y1="630.3" x2="766.95" y2="637.0999999999999" stroke="#111" stroke-width="1.6"/>
<line x1="775.92" y1="630.3" x2="775.92" y2="638.3" stroke="#111" stroke-width="1.6"/>
<line x1="784.90" y1="630.3" x2="784.90" y2="637.0999999999999" stroke="#111" stroke-width="1.6"/>
<line x1="793.88" y1="630.3" x2="793.88" y2="637.0999999999999" stroke="#111" stroke-width="1.6"/>
<line x1="802.86" y1="630.3" x2="802.86" y2="637.0999999999999" stroke="#111" stroke-width="1.6"/>
<line x1="811.84" y1="630.3" x2="811.84" y2="637.0999999999999" stroke="#111" stroke-width="1.6"/>
<line x1="820.82" y1="630.3" x2="820.82" y2="638.3" stroke="#111" stroke-width="1.6"/>
<line x1="829.80" y1="630.3" x2="829.80" y2="637.0999999999999" stroke="#111" stroke-width="1.6"/>
<line x1="838.78" y1="630.3" x2="838.78" y2="637.0999999999999" stroke="#111" stroke-width="1.6"/>
<line x1="847.76" y1="630.3" x2="847.76" y2="637.0999999999999" stroke="#111" stroke-width="1.6"/>
<line x1="856.74" y1="630.3" x2="856.74" y2="637.0999999999999" stroke="#111" stroke-width="1.6"/>
<line x1="865.71" y1="630.3" x2="865.71" y2="638.3" stroke="#111" stroke-width="1.6"/>
<line x1="874.69" y1="630.3" x2="874.69" y2="637.0999999999999" stroke="#111" stroke-width="1.6"/>
<line x1="883.67" y1="630.3" x2="883.67" y2="637.0999999999999" stroke="#111" stroke-width="1.6"/>
<line x1="892.65" y1="630.3" x2="892.65" y2="637.0999999999999" stroke="#111" stroke-width="1.6"/>
<line x1="901.63" y1="630.3" x2="901.63" y2="637.0999999999999" stroke="#111" stroke-width="1.6"/>
<line x1="910.61" y1="630.3" x2="910.61" y2="638.3" stroke="#111" stroke-width="1.6"/>
<line x1="919.59" y1="630.3" x2="919.59" y2="637.0999999999999" stroke="#111" stroke-width="1.6"/>
<line x1="928.57" y1="630.3" x2="928.57" y2="637.0999999999999" stroke="#111" stroke-width="1.6"/>
<line x1="937.55" y1="630.3" x2="937.55" y2="637.0999999999999" stroke="#111" stroke-width="1.6"/>
<line x1="946.53" y1="630.3" x2="946.53" y2="637.0999999999999" stroke="#111" stroke-width="1.6"/>
<line x1="955.50" y1="630.3" x2="955.50" y2="638.3" stroke="#111" stroke-width="1.6"/>
<line x1="964.48" y1="630.3" x2="964.48" y2="637.0999999999999" stroke="#111" stroke-width="1.6"/>
<line x1="973.46" y1="630.3" x2="973.46" y2="637.0999999999999" stroke="#111" stroke-width="1.6"/>
<line x1="982.44" y1="630.3" x2="982.44" y2="637.0999999999999" stroke="#111" stroke-width="1.6"/>
<line x1="991.42" y1="630.3" x2="991.42" y2="637.0999999999999" stroke="#111" stroke-width="1.6"/>
<line x1="1000.40" y1="630.3" x2="1000.40" y2="638.3" stroke="#111" stroke-width="1.6"/>
<line x1="96.00" y1="630.30" x2="102.5" y2="630.30" stroke="#111" stroke-width="1.5"/>
<line x1="97.00" y1="625.34" x2="102.5" y2="625.34" stroke="#111" stroke-width="1.5"/>
<line x1="97.00" y1="620.38" x2="102.5" y2="620.38" stroke="#111" stroke-width="1.5"/>
<line x1="97.00" y1="615.42" x2="102.5" y2="615.42" stroke="#111" stroke-width="1.5"/>
<line x1="97.00" y1="610.46" x2="102.5" y2="610.46" stroke="#111" stroke-width="1.5"/>
<line x1="96.00" y1="605.50" x2="102.5" y2="605.50" stroke="#111" stroke-width="1.5"/>
<line x1="97.00" y1="600.54" x2="102.5" y2="600.54" stroke="#111" stroke-width="1.5"/>
<line x1="97.00" y1="595.58" x2="102.5" y2="595.58" stroke="#111" stroke-width="1.5"/>
<line x1="97.00" y1="590.62" x2="102.5" y2="590.62" stroke="#111" stroke-width="1.5"/>
<line x1="97.00" y1="585.66" x2="102.5" y2="585.66" stroke="#111" stroke-width="1.5"/>
<line x1="96.00" y1="580.70" x2="102.5" y2="580.70" stroke="#111" stroke-width="1.5"/>
<line x1="97.00" y1="575.74" x2="102.5" y2="575.74" stroke="#111" stroke-width="1.5"/>
<line x1="97.00" y1="570.78" x2="102.5" y2="570.78" stroke="#111" stroke-width="1.5"/>
<line x1="97.00" y1="565.82" x2="102.5" y2="565.82" stroke="#111" stroke-width="1.5"/>
<line x1="97.00" y1="560.86" x2="102.5" y2="560.86" stroke="#111" stroke-width="1.5"/>
<line x1="96.00" y1="555.90" x2="102.5" y2="555.90" stroke="#111" stroke-width="1.5"/>
<line x1="97.00" y1="550.94" x2="102.5" y2="550.94" stroke="#111" stroke-width="1.5"/>
<line x1="97.00" y1="545.98" x2="102.5" y2="545.98" stroke="#111" stroke-width="1.5"/>
<line x1="97.00" y1="541.02" x2="102.5" y2="541.02" stroke="#111" stroke-width="1.5"/>
<line x1="97.00" y1="536.06" x2="102.5" y2="536.06" stroke="#111" stroke-width="1.5"/>
<line x1="96.00" y1="531.10" x2="102.5" y2="531.10" stroke="#111" stroke-width="1.5"/>
<line x1="97.00" y1="526.14" x2="102.5" y2="526.14" stroke="#111" stroke-width="1.5"/>
<line x1="97.00" y1="521.18" x2="102.5" y2="521.18" stroke="#111" stroke-width="1.5"/>
<line x1="97.00" y1="516.22" x2="102.5" y2="516.22" stroke="#111" stroke-width="1.5"/>
<line x1="97.00" y1="511.26" x2="102.5" y2="511.26" stroke="#111" stroke-width="1.5"/>
<line x1="96.00" y1="506.30" x2="102.5" y2="506.30" stroke="#111" stroke-width="1.5"/>
<line x1="97.00" y1="501.34" x2="102.5" y2="501.34" stroke="#111" stroke-width="1.5"/>
<line x1="97.00" y1="496.38" x2="102.5" y2="496.38" stroke="#111" stroke-width="1.5"/>
<line x1="97.00" y1="491.42" x2="102.5" y2="491.42" stroke="#111" stroke-width="1.5"/>
<line x1="97.00" y1="486.46" x2="102.5" y2="486.46" stroke="#111" stroke-width="1.5"/>
<line x1="96.00" y1="481.50" x2="102.5" y2="481.50" stroke="#111" stroke-width="1.5"/>
<line x1="97.00" y1="476.54" x2="102.5" y2="476.54" stroke="#111" stroke-width="1.5"/>
<line x1="97.00" y1="471.58" x2="102.5" y2="471.58" stroke="#111" stroke-width="1.5"/>
<line x1="97.00" y1="466.62" x2="102.5" y2="466.62" stroke="#111" stroke-width="1.5"/>
<text x="88.80" y="634.20" font-size="10.8" font-weight="700" fill="#444" textLength="5.4" lengthAdjust="spacingAndGlyphs">0</text>
<text x="83.20" y="609.40" font-size="10.8" font-weight="700" fill="#444" textLength="11.0" lengthAdjust="spacingAndGlyphs">10</text>
<text x="83.20" y="584.60" font-size="10.8" font-weight="700" fill="#444" textLength="11.0" lengthAdjust="spacingAndGlyphs">20</text>
<text x="83.20" y="559.80" font-size="10.8" font-weight="700" fill="#444" textLength="11.0" lengthAdjust="spacingAndGlyphs">30</text>
<text x="83.20" y="535.00" font-size="10.8" font-weight="700" fill="#444" textLength="11.0" lengthAdjust="spacingAndGlyphs">40</text>
<text x="83.20" y="510.20" font-size="10.8" font-weight="700" fill="#444" textLength="11.0" lengthAdjust="spacingAndGlyphs">50</text>
<text x="83.20" y="485.40" font-size="10.8" font-weight="700" fill="#444" textLength="11.0" lengthAdjust="spacingAndGlyphs">60</text>
<line x1="98.4" y1="679.8" x2="98.4" y2="754.2" stroke="#111" stroke-width="1.6"/>
<line x1="97.60000000000001" y1="753.9" x2="1002.8" y2="753.9" stroke="#111" stroke-width="3.6"/>
<line x1="1002" y1="679.9" x2="1002" y2="753.2" stroke="#444" stroke-width="1.4"/>
<line x1="98.40" y1="753.9" x2="98.40" y2="761.9" stroke="#111" stroke-width="1.6"/>
<line x1="107.43" y1="753.9" x2="107.43" y2="760.6999999999999" stroke="#111" stroke-width="1.6"/>
<line x1="116.47" y1="753.9" x2="116.47" y2="760.6999999999999" stroke="#111" stroke-width="1.6"/>
<line x1="125.50" y1="753.9" x2="125.50" y2="760.6999999999999" stroke="#111" stroke-width="1.6"/>
<line x1="134.53" y1="753.9" x2="134.53" y2="760.6999999999999" stroke="#111" stroke-width="1.6"/>
<line x1="143.56" y1="753.9" x2="143.56" y2="761.9" stroke="#111" stroke-width="1.6"/>
<line x1="152.60" y1="753.9" x2="152.60" y2="760.6999999999999" stroke="#111" stroke-width="1.6"/>
<line x1="161.63" y1="753.9" x2="161.63" y2="760.6999999999999" stroke="#111" stroke-width="1.6"/>
<line x1="170.66" y1="753.9" x2="170.66" y2="760.6999999999999" stroke="#111" stroke-width="1.6"/>
<line x1="179.70" y1="753.9" x2="179.70" y2="760.6999999999999" stroke="#111" stroke-width="1.6"/>
<line x1="188.73" y1="753.9" x2="188.73" y2="761.9" stroke="#111" stroke-width="1.6"/>
<line x1="197.76" y1="753.9" x2="197.76" y2="760.6999999999999" stroke="#111" stroke-width="1.6"/>
<line x1="206.80" y1="753.9" x2="206.80" y2="760.6999999999999" stroke="#111" stroke-width="1.6"/>
<line x1="215.83" y1="753.9" x2="215.83" y2="760.6999999999999" stroke="#111" stroke-width="1.6"/>
<line x1="224.86" y1="753.9" x2="224.86" y2="760.6999999999999" stroke="#111" stroke-width="1.6"/>
<line x1="233.90" y1="753.9" x2="233.90" y2="761.9" stroke="#111" stroke-width="1.6"/>
<line x1="242.93" y1="753.9" x2="242.93" y2="760.6999999999999" stroke="#111" stroke-width="1.6"/>
<line x1="251.96" y1="753.9" x2="251.96" y2="760.6999999999999" stroke="#111" stroke-width="1.6"/>
<line x1="260.99" y1="753.9" x2="260.99" y2="760.6999999999999" stroke="#111" stroke-width="1.6"/>
<line x1="270.03" y1="753.9" x2="270.03" y2="760.6999999999999" stroke="#111" stroke-width="1.6"/>
<line x1="279.06" y1="753.9" x2="279.06" y2="761.9" stroke="#111" stroke-width="1.6"/>
<line x1="288.09" y1="753.9" x2="288.09" y2="760.6999999999999" stroke="#111" stroke-width="1.6"/>
<line x1="297.13" y1="753.9" x2="297.13" y2="760.6999999999999" stroke="#111" stroke-width="1.6"/>
<line x1="306.16" y1="753.9" x2="306.16" y2="760.6999999999999" stroke="#111" stroke-width="1.6"/>
<line x1="315.19" y1="753.9" x2="315.19" y2="760.6999999999999" stroke="#111" stroke-width="1.6"/>
<line x1="324.23" y1="753.9" x2="324.23" y2="761.9" stroke="#111" stroke-width="1.6"/>
<line x1="333.26" y1="753.9" x2="333.26" y2="760.6999999999999" stroke="#111" stroke-width="1.6"/>
<line x1="342.29" y1="753.9" x2="342.29" y2="760.6999999999999" stroke="#111" stroke-width="1.6"/>
<line x1="351.32" y1="753.9" x2="351.32" y2="760.6999999999999" stroke="#111" stroke-width="1.6"/>
<line x1="360.36" y1="753.9" x2="360.36" y2="760.6999999999999" stroke="#111" stroke-width="1.6"/>
<line x1="369.39" y1="753.9" x2="369.39" y2="761.9" stroke="#111" stroke-width="1.6"/>
<line x1="378.42" y1="753.9" x2="378.42" y2="760.6999999999999" stroke="#111" stroke-width="1.6"/>
<line x1="387.46" y1="753.9" x2="387.46" y2="760.6999999999999" stroke="#111" stroke-width="1.6"/>
<line x1="396.49" y1="753.9" x2="396.49" y2="760.6999999999999" stroke="#111" stroke-width="1.6"/>
<line x1="405.52" y1="753.9" x2="405.52" y2="760.6999999999999" stroke="#111" stroke-width="1.6"/>
<line x1="414.56" y1="753.9" x2="414.56" y2="761.9" stroke="#111" stroke-width="1.6"/>
<line x1="423.59" y1="753.9" x2="423.59" y2="760.6999999999999" stroke="#111" stroke-width="1.6"/>
<line x1="432.62" y1="753.9" x2="432.62" y2="760.6999999999999" stroke="#111" stroke-width="1.6"/>
<line x1="441.65" y1="753.9" x2="441.65" y2="760.6999999999999" stroke="#111" stroke-width="1.6"/>
<line x1="450.69" y1="753.9" x2="450.69" y2="760.6999999999999" stroke="#111" stroke-width="1.6"/>
<line x1="459.72" y1="753.9" x2="459.72" y2="761.9" stroke="#111" stroke-width="1.6"/>
<line x1="468.75" y1="753.9" x2="468.75" y2="760.6999999999999" stroke="#111" stroke-width="1.6"/>
<line x1="477.79" y1="753.9" x2="477.79" y2="760.6999999999999" stroke="#111" stroke-width="1.6"/>
<line x1="486.82" y1="753.9" x2="486.82" y2="760.6999999999999" stroke="#111" stroke-width="1.6"/>
<line x1="495.85" y1="753.9" x2="495.85" y2="760.6999999999999" stroke="#111" stroke-width="1.6"/>
<line x1="504.88" y1="753.9" x2="504.88" y2="761.9" stroke="#111" stroke-width="1.6"/>
<line x1="513.92" y1="753.9" x2="513.92" y2="760.6999999999999" stroke="#111" stroke-width="1.6"/>
<line x1="522.95" y1="753.9" x2="522.95" y2="760.6999999999999" stroke="#111" stroke-width="1.6"/>
<line x1="531.98" y1="753.9" x2="531.98" y2="760.6999999999999" stroke="#111" stroke-width="1.6"/>
<line x1="541.02" y1="753.9" x2="541.02" y2="760.6999999999999" stroke="#111" stroke-width="1.6"/>
<line x1="550.05" y1="753.9" x2="550.05" y2="761.9" stroke="#111" stroke-width="1.6"/>
<line x1="559.08" y1="753.9" x2="559.08" y2="760.6999999999999" stroke="#111" stroke-width="1.6"/>
<line x1="568.12" y1="753.9" x2="568.12" y2="760.6999999999999" stroke="#111" stroke-width="1.6"/>
<line x1="577.15" y1="753.9" x2="577.15" y2="760.6999999999999" stroke="#111" stroke-width="1.6"/>
<line x1="586.18" y1="753.9" x2="586.18" y2="760.6999999999999" stroke="#111" stroke-width="1.6"/>
<line x1="595.22" y1="753.9" x2="595.22" y2="761.9" stroke="#111" stroke-width="1.6"/>
<line x1="604.25" y1="753.9" x2="604.25" y2="760.6999999999999" stroke="#111" stroke-width="1.6"/>
<line x1="613.28" y1="753.9" x2="613.28" y2="760.6999999999999" stroke="#111" stroke-width="1.6"/>
<line x1="622.31" y1="753.9" x2="622.31" y2="760.6999999999999" stroke="#111" stroke-width="1.6"/>
<line x1="631.35" y1="753.9" x2="631.35" y2="760.6999999999999" stroke="#111" stroke-width="1.6"/>
<line x1="640.38" y1="753.9" x2="640.38" y2="761.9" stroke="#111" stroke-width="1.6"/>
<line x1="649.41" y1="753.9" x2="649.41" y2="760.6999999999999" stroke="#111" stroke-width="1.6"/>
<line x1="658.45" y1="753.9" x2="658.45" y2="760.6999999999999" stroke="#111" stroke-width="1.6"/>
<line x1="667.48" y1="753.9" x2="667.48" y2="760.6999999999999" stroke="#111" stroke-width="1.6"/>
<line x1="676.51" y1="753.9" x2="676.51" y2="760.6999999999999" stroke="#111" stroke-width="1.6"/>
<line x1="685.55" y1="753.9" x2="685.55" y2="761.9" stroke="#111" stroke-width="1.6"/>
<line x1="694.58" y1="753.9" x2="694.58" y2="760.6999999999999" stroke="#111" stroke-width="1.6"/>
<line x1="703.61" y1="753.9" x2="703.61" y2="760.6999999999999" stroke="#111" stroke-width="1.6"/>
<line x1="712.64" y1="753.9" x2="712.64" y2="760.6999999999999" stroke="#111" stroke-width="1.6"/>
<line x1="721.68" y1="753.9" x2="721.68" y2="760.6999999999999" stroke="#111" stroke-width="1.6"/>
<line x1="730.71" y1="753.9" x2="730.71" y2="761.9" stroke="#111" stroke-width="1.6"/>
<line x1="739.74" y1="753.9" x2="739.74" y2="760.6999999999999" stroke="#111" stroke-width="1.6"/>
<line x1="748.78" y1="753.9" x2="748.78" y2="760.6999999999999" stroke="#111" stroke-width="1.6"/>
<line x1="757.81" y1="753.9" x2="757.81" y2="760.6999999999999" stroke="#111" stroke-width="1.6"/>
<line x1="766.84" y1="753.9" x2="766.84" y2="760.6999999999999" stroke="#111" stroke-width="1.6"/>
<line x1="775.88" y1="753.9" x2="775.88" y2="761.9" stroke="#111" stroke-width="1.6"/>
<line x1="784.91" y1="753.9" x2="784.91" y2="760.6999999999999" stroke="#111" stroke-width="1.6"/>
<line x1="793.94" y1="753.9" x2="793.94" y2="760.6999999999999" stroke="#111" stroke-width="1.6"/>
<line x1="802.97" y1="753.9" x2="802.97" y2="760.6999999999999" stroke="#111" stroke-width="1.6"/>
<line x1="812.01" y1="753.9" x2="812.01" y2="760.6999999999999" stroke="#111" stroke-width="1.6"/>
<line x1="821.04" y1="753.9" x2="821.04" y2="761.9" stroke="#111" stroke-width="1.6"/>
<line x1="830.07" y1="753.9" x2="830.07" y2="760.6999999999999" stroke="#111" stroke-width="1.6"/>
<line x1="839.11" y1="753.9" x2="839.11" y2="760.6999999999999" stroke="#111" stroke-width="1.6"/>
<line x1="848.14" y1="753.9" x2="848.14" y2="760.6999999999999" stroke="#111" stroke-width="1.6"/>
<line x1="857.17" y1="753.9" x2="857.17" y2="760.6999999999999" stroke="#111" stroke-width="1.6"/>
<line x1="866.21" y1="753.9" x2="866.21" y2="761.9" stroke="#111" stroke-width="1.6"/>
<line x1="875.24" y1="753.9" x2="875.24" y2="760.6999999999999" stroke="#111" stroke-width="1.6"/>
<line x1="884.27" y1="753.9" x2="884.27" y2="760.6999999999999" stroke="#111" stroke-width="1.6"/>
<line x1="893.30" y1="753.9" x2="893.30" y2="760.6999999999999" stroke="#111" stroke-width="1.6"/>
<line x1="902.34" y1="753.9" x2="902.34" y2="760.6999999999999" stroke="#111" stroke-width="1.6"/>
<line x1="911.37" y1="753.9" x2="911.37" y2="761.9" stroke="#111" stroke-width="1.6"/>
<line x1="920.40" y1="753.9" x2="920.40" y2="760.6999999999999" stroke="#111" stroke-width="1.6"/>
<line x1="929.44" y1="753.9" x2="929.44" y2="760.6999999999999" stroke="#111" stroke-width="1.6"/>
<line x1="938.47" y1="753.9" x2="938.47" y2="760.6999999999999" stroke="#111" stroke-width="1.6"/>
<line x1="947.50" y1="753.9" x2="947.50" y2="760.6999999999999" stroke="#111" stroke-width="1.6"/>
<line x1="956.53" y1="753.9" x2="956.53" y2="761.9" stroke="#111" stroke-width="1.6"/>
<line x1="965.57" y1="753.9" x2="965.57" y2="760.6999999999999" stroke="#111" stroke-width="1.6"/>
<line x1="974.60" y1="753.9" x2="974.60" y2="760.6999999999999" stroke="#111" stroke-width="1.6"/>
<line x1="983.63" y1="753.9" x2="983.63" y2="760.6999999999999" stroke="#111" stroke-width="1.6"/>
<line x1="992.67" y1="753.9" x2="992.67" y2="760.6999999999999" stroke="#111" stroke-width="1.6"/>
<line x1="1001.70" y1="753.9" x2="1001.70" y2="761.9" stroke="#111" stroke-width="1.6"/>
<line x1="91.90" y1="753.20" x2="98.4" y2="753.20" stroke="#111" stroke-width="1.5"/>
<line x1="92.90" y1="748.10" x2="98.4" y2="748.10" stroke="#111" stroke-width="1.5"/>
<line x1="92.90" y1="743.00" x2="98.4" y2="743.00" stroke="#111" stroke-width="1.5"/>
<line x1="92.90" y1="737.90" x2="98.4" y2="737.90" stroke="#111" stroke-width="1.5"/>
<line x1="92.90" y1="732.80" x2="98.4" y2="732.80" stroke="#111" stroke-width="1.5"/>
<line x1="91.90" y1="727.70" x2="98.4" y2="727.70" stroke="#111" stroke-width="1.5"/>
<line x1="92.90" y1="722.60" x2="98.4" y2="722.60" stroke="#111" stroke-width="1.5"/>
<line x1="92.90" y1="717.50" x2="98.4" y2="717.50" stroke="#111" stroke-width="1.5"/>
<line x1="92.90" y1="712.40" x2="98.4" y2="712.40" stroke="#111" stroke-width="1.5"/>
<line x1="92.90" y1="707.30" x2="98.4" y2="707.30" stroke="#111" stroke-width="1.5"/>
<line x1="91.90" y1="702.20" x2="98.4" y2="702.20" stroke="#111" stroke-width="1.5"/>
<line x1="92.90" y1="697.10" x2="98.4" y2="697.10" stroke="#111" stroke-width="1.5"/>
<line x1="92.90" y1="692.00" x2="98.4" y2="692.00" stroke="#111" stroke-width="1.5"/>
<line x1="92.90" y1="686.90" x2="98.4" y2="686.90" stroke="#111" stroke-width="1.5"/>
<line x1="92.90" y1="681.80" x2="98.4" y2="681.80" stroke="#111" stroke-width="1.5"/>
<text x="84.70" y="758.30" font-size="10.8" font-weight="400" fill="#555" textLength="5.4" lengthAdjust="spacingAndGlyphs">0</text>
<text x="79.10" y="732.80" font-size="10.8" font-weight="400" fill="#555" textLength="11.0" lengthAdjust="spacingAndGlyphs">10</text>
<text x="79.10" y="707.30" font-size="10.8" font-weight="400" fill="#555" textLength="11.0" lengthAdjust="spacingAndGlyphs">20</text>
<clipPath id="c30"><rect x="78" y="679.2" width="16" height="3"/></clipPath><text clip-path="url(#c30)" x="79.6" y="681.2" font-size="10.8" fill="#555" textLength="11" lengthAdjust="spacingAndGlyphs">30</text>
<text x="101.50" y="786.2" font-size="16.3" fill="#111" text-anchor="middle">0</text>
<text x="142.80" y="786.2" font-size="16.3" fill="#111" text-anchor="middle">1</text>
<text x="187.30" y="786.2" font-size="16.3" fill="#111" text-anchor="middle">2</text>
<text x="233.20" y="786.2" font-size="16.3" fill="#111" text-anchor="middle">3</text>
<text x="278.20" y="786.2" font-size="16.3" fill="#111" text-anchor="middle">4</text>
<text x="323.10" y="786.2" font-size="16.3" fill="#111" text-anchor="middle">5</text>
<text x="368.60" y="786.2" font-size="16.3" fill="#111" text-anchor="middle">6</text>
<text x="414.50" y="786.2" font-size="16.3" fill="#111" text-anchor="middle">7</text>
<text x="459.40" y="786.2" font-size="16.3" fill="#111" text-anchor="middle">8</text>
<text x="504.40" y="786.2" font-size="16.3" fill="#111" text-anchor="middle">9</text>
<text x="546.90" y="786.2" font-size="16.3" fill="#111" text-anchor="middle">10</text>
<text x="593.20" y="786.2" font-size="16.3" fill="#111" text-anchor="middle">11</text>
<text x="639.60" y="786.2" font-size="16.3" fill="#111" text-anchor="middle">12</text>
<text x="681.10" y="786.2" font-size="16.3" fill="#111" text-anchor="middle">13</text>
<text x="727.50" y="786.2" font-size="16.3" fill="#111" text-anchor="middle">14</text>
<text x="770.00" y="786.2" font-size="16.3" fill="#111" text-anchor="middle">15</text>
<text x="815.40" y="786.2" font-size="16.3" fill="#111" text-anchor="middle">16</text>
<text x="861.80" y="786.2" font-size="16.3" fill="#111" text-anchor="middle">17</text>
<text x="904.30" y="786.2" font-size="16.3" fill="#111" text-anchor="middle">18</text>
<text x="950.70" y="786.2" font-size="16.3" fill="#111" text-anchor="middle">19</text>
<text x="992.70" y="786.2" font-size="16.3" fill="#111" text-anchor="middle">20</text>
<path d="M247.0,263.0 L250.0,262.0 L254.0,262.0 L255.5,259.3 L257.8,257.6 L262.0,258.6 L264.8,260.5 L265.5,262.5 L267.0,263.0" fill="none" stroke="#2a2a2a" stroke-width="1.35" stroke-linejoin="round"/>
<path d="M462.0,263.0 L466.2,262.4 L468.8,220.9 L471.5,159.0 L472.5,116.4 L474.5,105.0 L475.4,98.2 L476.4,108.0 L477.0,116.4 L478.3,159.0 L483.3,220.9 L486.0,251.2 L488.6,262.4 L490.0,263.0" fill="none" stroke="#2a2a2a" stroke-width="1.7" stroke-linejoin="round"/>
<path d="M490.0,263.0 L491.2,262.3 L494.1,256.5 L497.9,248.7 L500.4,253.2 L502.4,256.5 L505.7,261.9 L507.0,263.0" fill="none" stroke="#2a2a2a" stroke-width="1.35" stroke-linejoin="round"/>
<path d="M507.0,263.0 L509.7,262.4 L512.3,220.9 L514.8,159.0 L515.7,130.0 L516.5,84.8 L517.4,53.2 L519.0,25.0 L520.0,16.2 L521.1,22.5 L522.0,36.6 L523.2,84.8 L524.4,114.0 L525.7,130.0 L526.5,159.0 L528.2,225.0 L529.8,239.1 L531.1,248.2 L532.5,255.0 L534.0,261.5 L535.0,263.0" fill="none" stroke="#2a2a2a" stroke-width="1.7" stroke-linejoin="round"/>
<path d="M525.5,263.0 L526.9,261.9 L530.2,256.1 L534.0,249.9 L536.5,253.2 L540.2,261.5 L541.5,263.0" fill="none" stroke="#2a2a2a" stroke-width="1.35" stroke-linejoin="round"/>
<path d="M545.0,263.0 L546.4,261.5 L548.9,252.4 L551.4,242.4 L553.9,238.3 L556.4,240.8 L558.0,245.7 L559.7,254.0 L560.9,259.9 L563.0,261.9 L565.0,263.0" fill="none" stroke="#2a2a2a" stroke-width="1.35" stroke-linejoin="round"/>
<path d="M650.0,422.43 L650.5,422.38 L651.0,422.30 L651.5,422.18 L652.0,422.00 L652.5,421.74 L653.0,421.37 L653.5,420.85 L654.0,420.15 L654.5,419.21 L655.0,418.00 L655.5,416.47 L656.0,414.60 L656.5,412.37 L657.0,409.78 L657.5,406.88 L658.0,403.73 L658.5,400.42 L659.0,397.09 L659.5,393.88 L660.0,390.96 L660.5,388.48 L661.0,386.59 L661.5,385.40 L662.0,385.00 L662.5,385.40 L663.0,386.59 L663.5,388.48 L664.0,390.96 L664.5,393.88 L665.0,397.09 L665.5,400.42 L666.0,403.73 L666.5,406.88 L667.0,409.78 L667.5,412.37 L668.0,414.60 L668.5,416.47 L669.0,418.00 L669.5,419.21 L670.0,420.15 L670.5,420.85 L671.0,421.37 L671.5,421.74 L672.0,422.00 L672.5,422.18 L673.0,422.30 L673.5,422.38 L674.0,422.43" fill="none" stroke="#2a2a2a" stroke-width="1.35" stroke-linejoin="round"/>
<path d="M279.0,630.0 L282.5,629.3 L285.5,624.9 L286.9,611.7 L288.6,594.1 L289.5,576.5 L290.8,563.3 L292.1,550.2 L293.5,534.3 L295.4,528.2 L297.9,532.6 L298.7,547.5 L300.5,554.5 L301.4,572.1 L303.6,585.3 L305.8,598.5 L308.4,607.3 L311.9,616.1 L317.2,622.2 L324.2,625.3 L332.1,627.5 L340.9,628.8 L349.7,629.3" fill="none" stroke="#2a2a2a" stroke-width="1.35" stroke-linejoin="round"/>
<path d="M507.0,630.0 L509.8,628.9 L512.2,612.4 L514.0,575.9 L515.2,545.4 L516.5,514.9 L518.3,490.5 L519.5,475.9 L520.7,478.3 L522.6,490.5 L524.4,514.9 L526.2,539.3 L528.0,563.7 L529.9,582.0 L532.3,600.2 L536.0,612.4 L539.0,618.5 L543.9,623.4 L551.2,627.1 L561.0,628.9" fill="none" stroke="#2a2a2a" stroke-width="1.6" stroke-linejoin="round"/>
<path d="M526.0,630.0 L528.0,628.9 L530.5,612.4 L532.3,594.1 L534.1,575.9 L536.0,571.0 L537.8,582.0 L540.2,597.8 L542.7,616.1 L545.1,625.9 L548.8,628.9 L551.0,630.0" fill="none" stroke="#2a2a2a" stroke-width="1.35" stroke-linejoin="round"/>
<path d="M460.0,753.05 L460.5,752.94 L461.0,752.76 L461.5,752.48 L462.0,752.06 L462.5,751.44 L463.0,750.58 L463.5,749.42 L464.0,747.92 L464.5,746.05 L465.0,743.83 L465.5,741.30 L466.0,738.55 L466.5,735.75 L467.0,733.05 L467.5,730.68 L468.0,728.81 L468.5,727.61 L469.0,727.20 L469.5,727.61 L470.0,728.81 L470.5,730.68 L471.0,733.05 L471.5,735.75 L472.0,738.55 L472.5,741.30 L473.0,743.83 L473.5,746.05 L474.0,747.92 L474.5,749.42 L475.0,750.58 L475.5,751.44 L476.0,752.06 L476.5,752.48 L477.0,752.76 L477.5,752.94 L478.0,753.05 L478.5,753.12 L479.0,753.16 L479.5,753.18 L480.0,753.19" fill="none" stroke="#2a2a2a" stroke-width="1.35" stroke-linejoin="round"/>
<path d="M546.0,753.14 L546.5,753.08 L547.0,752.97 L547.5,752.80 L548.0,752.52 L548.5,752.09 L549.0,751.45 L549.5,750.56 L550.0,749.37 L550.5,747.87 L551.0,746.06 L551.5,744.01 L552.0,741.85 L552.5,739.72 L553.0,737.81 L553.5,736.33 L554.0,735.43 L554.5,735.21 L555.0,735.67 L555.5,736.74 L556.0,738.31 L556.5,740.21 L557.0,742.28 L557.5,744.36 L558.0,746.30 L558.5,748.01 L559.0,749.44 L559.5,750.57 L560.0,751.43 L560.5,752.05 L561.0,752.48 L561.5,752.77 L562.0,752.95 L562.5,753.06 L563.0,753.12" fill="none" stroke="#2a2a2a" stroke-width="1.35" stroke-linejoin="round"/>
<path d="M582.0,753.18 L582.5,753.15 L583.0,753.11 L583.5,753.04 L584.0,752.93 L584.5,752.74 L585.0,752.46 L585.5,752.04 L586.0,751.45 L586.5,750.65 L587.0,749.63 L587.5,748.39 L588.0,746.94 L588.5,745.36 L589.0,743.73 L589.5,742.18 L590.0,740.85 L590.5,739.85 L591.0,739.29 L591.5,739.22 L592.0,739.41 L592.5,739.82 L593.0,740.41 L593.5,741.17 L594.0,742.05 L594.5,743.03 L595.0,744.07 L595.5,745.13 L596.0,746.18 L596.5,747.19 L597.0,748.13 L597.5,748.99 L598.0,749.76 L598.5,750.43 L599.0,751.00 L599.5,751.49 L600.0,751.89 L600.5,752.21 L601.0,752.46 L601.5,752.66 L602.0,752.81 L602.5,752.92 L603.0,753.01 L603.5,753.07 L604.0,753.11 L604.5,753.14 L605.0,753.16 L605.5,753.17 L606.0,753.18" fill="none" stroke="#2a2a2a" stroke-width="1.35" stroke-linejoin="round"/>
<path d="M616.0,753.08 L616.5,752.98 L617.0,752.81 L617.5,752.53 L618.0,752.10 L618.5,751.50 L619.0,750.68 L619.5,749.65 L620.0,748.41 L620.5,747.05 L621.0,745.66 L621.5,744.39 L622.0,743.38 L622.5,742.76 L623.0,742.61 L623.5,742.90 L624.0,743.58 L624.5,744.56 L625.0,745.75 L625.5,747.03 L626.0,748.29 L626.5,749.44 L627.0,750.44 L627.5,751.25 L628.0,751.88 L628.5,752.34 L629.0,752.66 L629.5,752.88 L630.0,753.01 L630.5,753.10 L631.0,753.14" fill="none" stroke="#2a2a2a" stroke-width="1.35" stroke-linejoin="round"/>
<line x1="239.7" y1="221.9" x2="257.5" y2="249" stroke="#222" stroke-width="1.4"/>
<line x1="568.3" y1="176.8" x2="540.9" y2="240" stroke="#222" stroke-width="1.4"/>
<line x1="567.5" y1="538" x2="541" y2="569" stroke="#222" stroke-width="1.4"/>
<line x1="532.5" y1="706.9" x2="550.3" y2="733.4" stroke="#222" stroke-width="1.4"/>
<line x1="682.2" y1="689.7" x2="595" y2="734.2" stroke="#222" stroke-width="1.4"/>
<line x1="669.2" y1="729.4" x2="622.9" y2="737.2" stroke="#222" stroke-width="1.4"/>
<polyline points="459.4,57.4 486,57.4 495.6,240" fill="none" stroke="#222" stroke-width="1.4"/>
<ellipse cx="556.3" cy="457" rx="2" ry="1.4" fill="#ddd"/><ellipse cx="572.7" cy="457" rx="2" ry="1.4" fill="#ddd"/>
<line x1="1001.8" y1="900" x2="1001.8" y2="1362" stroke="#f0f0f0" stroke-width="1"/>
<line x1="113.75" y1="910.6" x2="113.75" y2="1017.8" stroke="#444" stroke-width="1.2"/>
<line x1="113.75" y1="1017.8" x2="1000.3" y2="1017.8" stroke="#444" stroke-width="1.3"/>
<line x1="105.25" y1="1017.80" x2="113.75" y2="1017.80" stroke="#444" stroke-width="1.2"/>
<line x1="108.15" y1="1007.08" x2="113.75" y2="1007.08" stroke="#444" stroke-width="1.2"/>
<line x1="108.15" y1="996.36" x2="113.75" y2="996.36" stroke="#444" stroke-width="1.2"/>
<line x1="108.15" y1="985.64" x2="113.75" y2="985.64" stroke="#444" stroke-width="1.2"/>
<line x1="108.15" y1="974.92" x2="113.75" y2="974.92" stroke="#444" stroke-width="1.2"/>
<line x1="105.25" y1="964.20" x2="113.75" y2="964.20" stroke="#444" stroke-width="1.2"/>
<line x1="108.15" y1="953.48" x2="113.75" y2="953.48" stroke="#444" stroke-width="1.2"/>
<line x1="108.15" y1="942.76" x2="113.75" y2="942.76" stroke="#444" stroke-width="1.2"/>
<line x1="108.15" y1="932.04" x2="113.75" y2="932.04" stroke="#444" stroke-width="1.2"/>
<line x1="108.15" y1="921.32" x2="113.75" y2="921.32" stroke="#444" stroke-width="1.2"/>
<line x1="105.25" y1="910.60" x2="113.75" y2="910.60" stroke="#444" stroke-width="1.2"/>
<line x1="113.75" y1="1027.5" x2="113.75" y2="1134.2" stroke="#444" stroke-width="1.2"/>
<line x1="113.75" y1="1134.2" x2="1000.3" y2="1134.2" stroke="#444" stroke-width="1.3"/>
<line x1="105.25" y1="1134.20" x2="113.75" y2="1134.20" stroke="#444" stroke-width="1.2"/>
<line x1="108.15" y1="1123.53" x2="113.75" y2="1123.53" stroke="#444" stroke-width="1.2"/>
<line x1="108.15" y1="1112.86" x2="113.75" y2="1112.86" stroke="#444" stroke-width="1.2"/>
<line x1="108.15" y1="1102.19" x2="113.75" y2="1102.19" stroke="#444" stroke-width="1.2"/>
<line x1="108.15" y1="1091.52" x2="113.75" y2="1091.52" stroke="#444" stroke-width="1.2"/>
<line x1="105.25" y1="1080.85" x2="113.75" y2="1080.85" stroke="#444" stroke-width="1.2"/>
<line x1="108.15" y1="1070.18" x2="113.75" y2="1070.18" stroke="#444" stroke-width="1.2"/>
<line x1="108.15" y1="1059.51" x2="113.75" y2="1059.51" stroke="#444" stroke-width="1.2"/>
<line x1="108.15" y1="1048.84" x2="113.75" y2="1048.84" stroke="#444" stroke-width="1.2"/>
<line x1="108.15" y1="1038.17" x2="113.75" y2="1038.17" stroke="#444" stroke-width="1.2"/>
<line x1="105.25" y1="1027.50" x2="113.75" y2="1027.50" stroke="#444" stroke-width="1.2"/>
<line x1="113.75" y1="1143.6" x2="113.75" y2="1250.3" stroke="#444" stroke-width="1.2"/>
<line x1="113.75" y1="1250.3" x2="1000.3" y2="1250.3" stroke="#444" stroke-width="1.3"/>
<line x1="105.25" y1="1250.30" x2="113.75" y2="1250.30" stroke="#444" stroke-width="1.2"/>
<line x1="108.15" y1="1239.63" x2="113.75" y2="1239.63" stroke="#444" stroke-width="1.2"/>
<line x1="108.15" y1="1228.96" x2="113.75" y2="1228.96" stroke="#444" stroke-width="1.2"/>
<line x1="108.15" y1="1218.29" x2="113.75" y2="1218.29" stroke="#444" stroke-width="1.2"/>
<line x1="108.15" y1="1207.62" x2="113.75" y2="1207.62" stroke="#444" stroke-width="1.2"/>
<line x1="105.25" y1="1196.95" x2="113.75" y2="1196.95" stroke="#444" stroke-width="1.2"/>
<line x1="108.15" y1="1186.28" x2="113.75" y2="1186.28" stroke="#444" stroke-width="1.2"/>
<line x1="108.15" y1="1175.61" x2="113.75" y2="1175.61" stroke="#444" stroke-width="1.2"/>
<line x1="108.15" y1="1164.94" x2="113.75" y2="1164.94" stroke="#444" stroke-width="1.2"/>
<line x1="108.15" y1="1154.27" x2="113.75" y2="1154.27" stroke="#444" stroke-width="1.2"/>
<line x1="105.25" y1="1143.60" x2="113.75" y2="1143.60" stroke="#444" stroke-width="1.2"/>
<line x1="113.75" y1="1259.7" x2="113.75" y2="1366.4" stroke="#444" stroke-width="1.2"/>
<line x1="113.75" y1="1366.4" x2="1000.8" y2="1366.4" stroke="#222" stroke-width="1.6"/>
<line x1="105.25" y1="1366.40" x2="113.75" y2="1366.40" stroke="#444" stroke-width="1.2"/>
<line x1="108.15" y1="1355.73" x2="113.75" y2="1355.73" stroke="#444" stroke-width="1.2"/>
<line x1="108.15" y1="1345.06" x2="113.75" y2="1345.06" stroke="#444" stroke-width="1.2"/>
<line x1="108.15" y1="1334.39" x2="113.75" y2="1334.39" stroke="#444" stroke-width="1.2"/>
<line x1="108.15" y1="1323.72" x2="113.75" y2="1323.72" stroke="#444" stroke-width="1.2"/>
<line x1="105.25" y1="1313.05" x2="113.75" y2="1313.05" stroke="#444" stroke-width="1.2"/>
<line x1="108.15" y1="1302.38" x2="113.75" y2="1302.38" stroke="#444" stroke-width="1.2"/>
<line x1="108.15" y1="1291.71" x2="113.75" y2="1291.71" stroke="#444" stroke-width="1.2"/>
<line x1="108.15" y1="1281.04" x2="113.75" y2="1281.04" stroke="#444" stroke-width="1.2"/>
<line x1="108.15" y1="1270.37" x2="113.75" y2="1270.37" stroke="#444" stroke-width="1.2"/>
<line x1="105.25" y1="1259.70" x2="113.75" y2="1259.70" stroke="#444" stroke-width="1.2"/>
<text x="80.70" y="915.70" font-size="15.5" fill="#505050" textLength="23.1" lengthAdjust="spacingAndGlyphs">100</text>
<text x="88.50" y="969.30" font-size="15.5" fill="#505050" textLength="15.3" lengthAdjust="spacingAndGlyphs">50</text>
<text x="80.70" y="1032.60" font-size="15.5" fill="#505050" textLength="23.1" lengthAdjust="spacingAndGlyphs">100</text>
<text x="88.50" y="1085.95" font-size="15.5" fill="#505050" textLength="15.3" lengthAdjust="spacingAndGlyphs">50</text>
<text x="80.70" y="1148.70" font-size="15.5" fill="#505050" textLength="23.1" lengthAdjust="spacingAndGlyphs">100</text>
<text x="88.50" y="1202.05" font-size="15.5" fill="#505050" textLength="15.3" lengthAdjust="spacingAndGlyphs">50</text>
<text x="80.70" y="1264.80" font-size="15.5" fill="#505050" textLength="23.1" lengthAdjust="spacingAndGlyphs">100</text>
<text x="88.50" y="1318.15" font-size="15.5" fill="#505050" textLength="15.3" lengthAdjust="spacingAndGlyphs">50</text>
<rect x="95.8" y="1011.00" width="8.6" height="14.6" fill="#fff"/>
<text x="96.50" y="1022.90" font-size="15.5" fill="#505050" textLength="7.3" lengthAdjust="spacingAndGlyphs">0</text>
<rect x="95.8" y="1127.40" width="8.6" height="14.6" fill="#fff"/>
<text x="96.50" y="1139.30" font-size="15.5" fill="#505050" textLength="7.3" lengthAdjust="spacingAndGlyphs">0</text>
<rect x="95.8" y="1243.50" width="8.6" height="14.6" fill="#fff"/>
<text x="96.50" y="1255.40" font-size="15.5" fill="#505050" textLength="7.3" lengthAdjust="spacingAndGlyphs">0</text>
<text x="96.50" y="1371.50" font-size="15.5" fill="#505050" textLength="7.3" lengthAdjust="spacingAndGlyphs">0</text>
<line x1="113.75" y1="1366.4" x2="113.75" y2="1374.4" stroke="#222" stroke-width="1.2"/>
<line x1="118.18" y1="1366.4" x2="118.18" y2="1368.6000000000001" stroke="#222" stroke-width="1.2"/>
<line x1="122.62" y1="1366.4" x2="122.62" y2="1368.6000000000001" stroke="#222" stroke-width="1.2"/>
<line x1="127.05" y1="1366.4" x2="127.05" y2="1368.6000000000001" stroke="#222" stroke-width="1.2"/>
<line x1="131.48" y1="1366.4" x2="131.48" y2="1368.6000000000001" stroke="#222" stroke-width="1.2"/>
<line x1="135.91" y1="1366.4" x2="135.91" y2="1372.4" stroke="#222" stroke-width="1.2"/>
<line x1="140.35" y1="1366.4" x2="140.35" y2="1368.6000000000001" stroke="#222" stroke-width="1.2"/>
<line x1="144.78" y1="1366.4" x2="144.78" y2="1368.6000000000001" stroke="#222" stroke-width="1.2"/>
<line x1="149.21" y1="1366.4" x2="149.21" y2="1368.6000000000001" stroke="#222" stroke-width="1.2"/>
<line x1="153.64" y1="1366.4" x2="153.64" y2="1368.6000000000001" stroke="#222" stroke-width="1.2"/>
<line x1="158.08" y1="1366.4" x2="158.08" y2="1372.4" stroke="#222" stroke-width="1.2"/>
<line x1="162.51" y1="1366.4" x2="162.51" y2="1368.6000000000001" stroke="#222" stroke-width="1.2"/>
<line x1="166.94" y1="1366.4" x2="166.94" y2="1368.6000000000001" stroke="#222" stroke-width="1.2"/>
<line x1="171.38" y1="1366.4" x2="171.38" y2="1368.6000000000001" stroke="#222" stroke-width="1.2"/>
<line x1="175.81" y1="1366.4" x2="175.81" y2="1368.6000000000001" stroke="#222" stroke-width="1.2"/>
<line x1="180.24" y1="1366.4" x2="180.24" y2="1372.4" stroke="#222" stroke-width="1.2"/>
<line x1="184.67" y1="1366.4" x2="184.67" y2="1368.6000000000001" stroke="#222" stroke-width="1.2"/>
<line x1="189.11" y1="1366.4" x2="189.11" y2="1368.6000000000001" stroke="#222" stroke-width="1.2"/>
<line x1="193.54" y1="1366.4" x2="193.54" y2="1368.6000000000001" stroke="#222" stroke-width="1.2"/>
<line x1="197.97" y1="1366.4" x2="197.97" y2="1368.6000000000001" stroke="#222" stroke-width="1.2"/>
<line x1="202.41" y1="1366.4" x2="202.41" y2="1374.4" stroke="#222" stroke-width="1.2"/>
<line x1="206.84" y1="1366.4" x2="206.84" y2="1368.6000000000001" stroke="#222" stroke-width="1.2"/>
<line x1="211.27" y1="1366.4" x2="211.27" y2="1368.6000000000001" stroke="#222" stroke-width="1.2"/>
<line x1="215.70" y1="1366.4" x2="215.70" y2="1368.6000000000001" stroke="#222" stroke-width="1.2"/>
<line x1="220.14" y1="1366.4" x2="220.14" y2="1368.6000000000001" stroke="#222" stroke-width="1.2"/>
<line x1="224.57" y1="1366.4" x2="224.57" y2="1372.4" stroke="#222" stroke-width="1.2"/>
<line x1="229.00" y1="1366.4" x2="229.00" y2="1368.6000000000001" stroke="#222" stroke-width="1.2"/>
<line x1="233.43" y1="1366.4" x2="233.43" y2="1368.6000000000001" stroke="#222" stroke-width="1.2"/>
<line x1="237.87" y1="1366.4" x2="237.87" y2="1368.6000000000001" stroke="#222" stroke-width="1.2"/>
<line x1="242.30" y1="1366.4" x2="242.30" y2="1368.6000000000001" stroke="#222" stroke-width="1.2"/>
<line x1="246.73" y1="1366.4" x2="246.73" y2="1372.4" stroke="#222" stroke-width="1.2"/>
<line x1="251.17" y1="1366.4" x2="251.17" y2="1368.6000000000001" stroke="#222" stroke-width="1.2"/>
<line x1="255.60" y1="1366.4" x2="255.60" y2="1368.6000000000001" stroke="#222" stroke-width="1.2"/>
<line x1="260.03" y1="1366.4" x2="260.03" y2="1368.6000000000001" stroke="#222" stroke-width="1.2"/>
<line x1="264.46" y1="1366.4" x2="264.46" y2="1368.6000000000001" stroke="#222" stroke-width="1.2"/>
<line x1="268.90" y1="1366.4" x2="268.90" y2="1372.4" stroke="#222" stroke-width="1.2"/>
<line x1="273.33" y1="1366.4" x2="273.33" y2="1368.6000000000001" stroke="#222" stroke-width="1.2"/>
<line x1="277.76" y1="1366.4" x2="277.76" y2="1368.6000000000001" stroke="#222" stroke-width="1.2"/>
<line x1="282.19" y1="1366.4" x2="282.19" y2="1368.6000000000001" stroke="#222" stroke-width="1.2"/>
<line x1="286.63" y1="1366.4" x2="286.63" y2="1368.6000000000001" stroke="#222" stroke-width="1.2"/>
<line x1="291.06" y1="1366.4" x2="291.06" y2="1374.4" stroke="#222" stroke-width="1.2"/>
<line x1="295.49" y1="1366.4" x2="295.49" y2="1368.6000000000001" stroke="#222" stroke-width="1.2"/>
<line x1="299.93" y1="1366.4" x2="299.93" y2="1368.6000000000001" stroke="#222" stroke-width="1.2"/>
<line x1="304.36" y1="1366.4" x2="304.36" y2="1368.6000000000001" stroke="#222" stroke-width="1.2"/>
<line x1="308.79" y1="1366.4" x2="308.79" y2="1368.6000000000001" stroke="#222" stroke-width="1.2"/>
<line x1="313.22" y1="1366.4" x2="313.22" y2="1372.4" stroke="#222" stroke-width="1.2"/>
<line x1="317.66" y1="1366.4" x2="317.66" y2="1368.6000000000001" stroke="#222" stroke-width="1.2"/>
<line x1="322.09" y1="1366.4" x2="322.09" y2="1368.6000000000001" stroke="#222" stroke-width="1.2"/>
<line x1="326.52" y1="1366.4" x2="326.52" y2="1368.6000000000001" stroke="#222" stroke-width="1.2"/>
<line x1="330.95" y1="1366.4" x2="330.95" y2="1368.6000000000001" stroke="#222" stroke-width="1.2"/>
<line x1="335.39" y1="1366.4" x2="335.39" y2="1372.4" stroke="#222" stroke-width="1.2"/>
<line x1="339.82" y1="1366.4" x2="339.82" y2="1368.6000000000001" stroke="#222" stroke-width="1.2"/>
<line x1="344.25" y1="1366.4" x2="344.25" y2="1368.6000000000001" stroke="#222" stroke-width="1.2"/>
<line x1="348.69" y1="1366.4" x2="348.69" y2="1368.6000000000001" stroke="#222" stroke-width="1.2"/>
<line x1="353.12" y1="1366.4" x2="353.12" y2="1368.6000000000001" stroke="#222" stroke-width="1.2"/>
<line x1="357.55" y1="1366.4" x2="357.55" y2="1372.4" stroke="#222" stroke-width="1.2"/>
<line x1="361.98" y1="1366.4" x2="361.98" y2="1368.6000000000001" stroke="#222" stroke-width="1.2"/>
<line x1="366.42" y1="1366.4" x2="366.42" y2="1368.6000000000001" stroke="#222" stroke-width="1.2"/>
<line x1="370.85" y1="1366.4" x2="370.85" y2="1368.6000000000001" stroke="#222" stroke-width="1.2"/>
<line x1="375.28" y1="1366.4" x2="375.28" y2="1368.6000000000001" stroke="#222" stroke-width="1.2"/>
<line x1="379.72" y1="1366.4" x2="379.72" y2="1374.4" stroke="#222" stroke-width="1.2"/>
<line x1="384.15" y1="1366.4" x2="384.15" y2="1368.6000000000001" stroke="#222" stroke-width="1.2"/>
<line x1="388.58" y1="1366.4" x2="388.58" y2="1368.6000000000001" stroke="#222" stroke-width="1.2"/>
<line x1="393.01" y1="1366.4" x2="393.01" y2="1368.6000000000001" stroke="#222" stroke-width="1.2"/>
<line x1="397.45" y1="1366.4" x2="397.45" y2="1368.6000000000001" stroke="#222" stroke-width="1.2"/>
<line x1="401.88" y1="1366.4" x2="401.88" y2="1372.4" stroke="#222" stroke-width="1.2"/>
<line x1="406.31" y1="1366.4" x2="406.31" y2="1368.6000000000001" stroke="#222" stroke-width="1.2"/>
<line x1="410.74" y1="1366.4" x2="410.74" y2="1368.6000000000001" stroke="#222" stroke-width="1.2"/>
<line x1="415.18" y1="1366.4" x2="415.18" y2="1368.6000000000001" stroke="#222" stroke-width="1.2"/>
<line x1="419.61" y1="1366.4" x2="419.61" y2="1368.6000000000001" stroke="#222" stroke-width="1.2"/>
<line x1="424.04" y1="1366.4" x2="424.04" y2="1372.4" stroke="#222" stroke-width="1.2"/>
<line x1="428.48" y1="1366.4" x2="428.48" y2="1368.6000000000001" stroke="#222" stroke-width="1.2"/>
<line x1="432.91" y1="1366.4" x2="432.91" y2="1368.6000000000001" stroke="#222" stroke-width="1.2"/>
<line x1="437.34" y1="1366.4" x2="437.34" y2="1368.6000000000001" stroke="#222" stroke-width="1.2"/>
<line x1="441.77" y1="1366.4" x2="441.77" y2="1368.6000000000001" stroke="#222" stroke-width="1.2"/>
<line x1="446.21" y1="1366.4" x2="446.21" y2="1372.4" stroke="#222" stroke-width="1.2"/>
<line x1="450.64" y1="1366.4" x2="450.64" y2="1368.6000000000001" stroke="#222" stroke-width="1.2"/>
<line x1="455.07" y1="1366.4" x2="455.07" y2="1368.6000000000001" stroke="#222" stroke-width="1.2"/>
<line x1="459.50" y1="1366.4" x2="459.50" y2="1368.6000000000001" stroke="#222" stroke-width="1.2"/>
<line x1="463.94" y1="1366.4" x2="463.94" y2="1368.6000000000001" stroke="#222" stroke-width="1.2"/>
<line x1="468.37" y1="1366.4" x2="468.37" y2="1374.4" stroke="#222" stroke-width="1.2"/>
<line x1="472.80" y1="1366.4" x2="472.80" y2="1368.6000000000001" stroke="#222" stroke-width="1.2"/>
<line x1="477.24" y1="1366.4" x2="477.24" y2="1368.6000000000001" stroke="#222" stroke-width="1.2"/>
<line x1="481.67" y1="1366.4" x2="481.67" y2="1368.6000000000001" stroke="#222" stroke-width="1.2"/>
<line x1="486.10" y1="1366.4" x2="486.10" y2="1368.6000000000001" stroke="#222" stroke-width="1.2"/>
<line x1="490.53" y1="1366.4" x2="490.53" y2="1372.4" stroke="#222" stroke-width="1.2"/>
<line x1="494.97" y1="1366.4" x2="494.97" y2="1368.6000000000001" stroke="#222" stroke-width="1.2"/>
<line x1="499.40" y1="1366.4" x2="499.40" y2="1368.6000000000001" stroke="#222" stroke-width="1.2"/>
<line x1="503.83" y1="1366.4" x2="503.83" y2="1368.6000000000001" stroke="#222" stroke-width="1.2"/>
<line x1="508.26" y1="1366.4" x2="508.26" y2="1368.6000000000001" stroke="#222" stroke-width="1.2"/>
<line x1="512.70" y1="1366.4" x2="512.70" y2="1372.4" stroke="#222" stroke-width="1.2"/>
<line x1="517.13" y1="1366.4" x2="517.13" y2="1368.6000000000001" stroke="#222" stroke-width="1.2"/>
<line x1="521.56" y1="1366.4" x2="521.56" y2="1368.6000000000001" stroke="#222" stroke-width="1.2"/>
<line x1="526.00" y1="1366.4" x2="526.00" y2="1368.6000000000001" stroke="#222" stroke-width="1.2"/>
<line x1="530.43" y1="1366.4" x2="530.43" y2="1368.6000000000001" stroke="#222" stroke-width="1.2"/>
<line x1="534.86" y1="1366.4" x2="534.86" y2="1372.4" stroke="#222" stroke-width="1.2"/>
<line x1="539.29" y1="1366.4" x2="539.29" y2="1368.6000000000001" stroke="#222" stroke-width="1.2"/>
<line x1="543.73" y1="1366.4" x2="543.73" y2="1368.6000000000001" stroke="#222" stroke-width="1.2"/>
<line x1="548.16" y1="1366.4" x2="548.16" y2="1368.6000000000001" stroke="#222" stroke-width="1.2"/>
<line x1="552.59" y1="1366.4" x2="552.59" y2="1368.6000000000001" stroke="#222" stroke-width="1.2"/>
<line x1="557.02" y1="1366.4" x2="557.02" y2="1374.4" stroke="#222" stroke-width="1.2"/>
<line x1="561.46" y1="1366.4" x2="561.46" y2="1368.6000000000001" stroke="#222" stroke-width="1.2"/>
<line x1="565.89" y1="1366.4" x2="565.89" y2="1368.6000000000001" stroke="#222" stroke-width="1.2"/>
<line x1="570.32" y1="1366.4" x2="570.32" y2="1368.6000000000001" stroke="#222" stroke-width="1.2"/>
<line x1="574.76" y1="1366.4" x2="574.76" y2="1368.6000000000001" stroke="#222" stroke-width="1.2"/>
<line x1="579.19" y1="1366.4" x2="579.19" y2="1372.4" stroke="#222" stroke-width="1.2"/>
<line x1="583.62" y1="1366.4" x2="583.62" y2="1368.6000000000001" stroke="#222" stroke-width="1.2"/>
<line x1="588.05" y1="1366.4" x2="588.05" y2="1368.6000000000001" stroke="#222" stroke-width="1.2"/>
<line x1="592.49" y1="1366.4" x2="592.49" y2="1368.6000000000001" stroke="#222" stroke-width="1.2"/>
<line x1="596.92" y1="1366.4" x2="596.92" y2="1368.6000000000001" stroke="#222" stroke-width="1.2"/>
<line x1="601.35" y1="1366.4" x2="601.35" y2="1372.4" stroke="#222" stroke-width="1.2"/>
<line x1="605.79" y1="1366.4" x2="605.79" y2="1368.6000000000001" stroke="#222" stroke-width="1.2"/>
<line x1="610.22" y1="1366.4" x2="610.22" y2="1368.6000000000001" stroke="#222" stroke-width="1.2"/>
<line x1="614.65" y1="1366.4" x2="614.65" y2="1368.6000000000001" stroke="#222" stroke-width="1.2"/>
<line x1="619.08" y1="1366.4" x2="619.08" y2="1368.6000000000001" stroke="#222" stroke-width="1.2"/>
<line x1="623.52" y1="1366.4" x2="623.52" y2="1372.4" stroke="#222" stroke-width="1.2"/>
<line x1="627.95" y1="1366.4" x2="627.95" y2="1368.6000000000001" stroke="#222" stroke-width="1.2"/>
<line x1="632.38" y1="1366.4" x2="632.38" y2="1368.6000000000001" stroke="#222" stroke-width="1.2"/>
<line x1="636.81" y1="1366.4" x2="636.81" y2="1368.6000000000001" stroke="#222" stroke-width="1.2"/>
<line x1="641.25" y1="1366.4" x2="641.25" y2="1368.6000000000001" stroke="#222" stroke-width="1.2"/>
<line x1="645.68" y1="1366.4" x2="645.68" y2="1374.4" stroke="#222" stroke-width="1.2"/>
<line x1="650.11" y1="1366.4" x2="650.11" y2="1368.6000000000001" stroke="#222" stroke-width="1.2"/>
<line x1="654.55" y1="1366.4" x2="654.55" y2="1368.6000000000001" stroke="#222" stroke-width="1.2"/>
<line x1="658.98" y1="1366.4" x2="658.98" y2="1368.6000000000001" stroke="#222" stroke-width="1.2"/>
<line x1="663.41" y1="1366.4" x2="663.41" y2="1368.6000000000001" stroke="#222" stroke-width="1.2"/>
<line x1="667.84" y1="1366.4" x2="667.84" y2="1372.4" stroke="#222" stroke-width="1.2"/>
<line x1="672.28" y1="1366.4" x2="672.28" y2="1368.6000000000001" stroke="#222" stroke-width="1.2"/>
<line x1="676.71" y1="1366.4" x2="676.71" y2="1368.6000000000001" stroke="#222" stroke-width="1.2"/>
<line x1="681.14" y1="1366.4" x2="681.14" y2="1368.6000000000001" stroke="#222" stroke-width="1.2"/>
<line x1="685.57" y1="1366.4" x2="685.57" y2="1368.6000000000001" stroke="#222" stroke-width="1.2"/>
<line x1="690.01" y1="1366.4" x2="690.01" y2="1372.4" stroke="#222" stroke-width="1.2"/>
<line x1="694.44" y1="1366.4" x2="694.44" y2="1368.6000000000001" stroke="#222" stroke-width="1.2"/>
<line x1="698.87" y1="1366.4" x2="698.87" y2="1368.6000000000001" stroke="#222" stroke-width="1.2"/>
<line x1="703.31" y1="1366.4" x2="703.31" y2="1368.6000000000001" stroke="#222" stroke-width="1.2"/>
<line x1="707.74" y1="1366.4" x2="707.74" y2="1368.6000000000001" stroke="#222" stroke-width="1.2"/>
<line x1="712.17" y1="1366.4" x2="712.17" y2="1372.4" stroke="#222" stroke-width="1.2"/>
<line x1="716.60" y1="1366.4" x2="716.60" y2="1368.6000000000001" stroke="#222" stroke-width="1.2"/>
<line x1="721.04" y1="1366.4" x2="721.04" y2="1368.6000000000001" stroke="#222" stroke-width="1.2"/>
<line x1="725.47" y1="1366.4" x2="725.47" y2="1368.6000000000001" stroke="#222" stroke-width="1.2"/>
<line x1="729.90" y1="1366.4" x2="729.90" y2="1368.6000000000001" stroke="#222" stroke-width="1.2"/>
<line x1="734.34" y1="1366.4" x2="734.34" y2="1374.4" stroke="#222" stroke-width="1.2"/>
<line x1="738.77" y1="1366.4" x2="738.77" y2="1368.6000000000001" stroke="#222" stroke-width="1.2"/>
<line x1="743.20" y1="1366.4" x2="743.20" y2="1368.6000000000001" stroke="#222" stroke-width="1.2"/>
<line x1="747.63" y1="1366.4" x2="747.63" y2="1368.6000000000001" stroke="#222" stroke-width="1.2"/>
<line x1="752.07" y1="1366.4" x2="752.07" y2="1368.6000000000001" stroke="#222" stroke-width="1.2"/>
<line x1="756.50" y1="1366.4" x2="756.50" y2="1372.4" stroke="#222" stroke-width="1.2"/>
<line x1="760.93" y1="1366.4" x2="760.93" y2="1368.6000000000001" stroke="#222" stroke-width="1.2"/>
<line x1="765.36" y1="1366.4" x2="765.36" y2="1368.6000000000001" stroke="#222" stroke-width="1.2"/>
<line x1="769.80" y1="1366.4" x2="769.80" y2="1368.6000000000001" stroke="#222" stroke-width="1.2"/>
<line x1="774.23" y1="1366.4" x2="774.23" y2="1368.6000000000001" stroke="#222" stroke-width="1.2"/>
<line x1="778.66" y1="1366.4" x2="778.66" y2="1372.4" stroke="#222" stroke-width="1.2"/>
<line x1="783.10" y1="1366.4" x2="783.10" y2="1368.6000000000001" stroke="#222" stroke-width="1.2"/>
<line x1="787.53" y1="1366.4" x2="787.53" y2="1368.6000000000001" stroke="#222" stroke-width="1.2"/>
<line x1="791.96" y1="1366.4" x2="791.96" y2="1368.6000000000001" stroke="#222" stroke-width="1.2"/>
<line x1="796.39" y1="1366.4" x2="796.39" y2="1368.6000000000001" stroke="#222" stroke-width="1.2"/>
<line x1="800.83" y1="1366.4" x2="800.83" y2="1372.4" stroke="#222" stroke-width="1.2"/>
<line x1="805.26" y1="1366.4" x2="805.26" y2="1368.6000000000001" stroke="#222" stroke-width="1.2"/>
<line x1="809.69" y1="1366.4" x2="809.69" y2="1368.6000000000001" stroke="#222" stroke-width="1.2"/>
<line x1="814.12" y1="1366.4" x2="814.12" y2="1368.6000000000001" stroke="#222" stroke-width="1.2"/>
<line x1="818.56" y1="1366.4" x2="818.56" y2="1368.6000000000001" stroke="#222" stroke-width="1.2"/>
<line x1="822.99" y1="1366.4" x2="822.99" y2="1374.4" stroke="#222" stroke-width="1.2"/>
<line x1="827.42" y1="1366.4" x2="827.42" y2="1368.6000000000001" stroke="#222" stroke-width="1.2"/>
<line x1="831.86" y1="1366.4" x2="831.86" y2="1368.6000000000001" stroke="#222" stroke-width="1.2"/>
<line x1="836.29" y1="1366.4" x2="836.29" y2="1368.6000000000001" stroke="#222" stroke-width="1.2"/>
<line x1="840.72" y1="1366.4" x2="840.72" y2="1368.6000000000001" stroke="#222" stroke-width="1.2"/>
<line x1="845.15" y1="1366.4" x2="845.15" y2="1372.4" stroke="#222" stroke-width="1.2"/>
<line x1="849.59" y1="1366.4" x2="849.59" y2="1368.6000000000001" stroke="#222" stroke-width="1.2"/>
<line x1="854.02" y1="1366.4" x2="854.02" y2="1368.6000000000001" stroke="#222" stroke-width="1.2"/>
<line x1="858.45" y1="1366.4" x2="858.45" y2="1368.6000000000001" stroke="#222" stroke-width="1.2"/>
<line x1="862.88" y1="1366.4" x2="862.88" y2="1368.6000000000001" stroke="#222" stroke-width="1.2"/>
<line x1="867.32" y1="1366.4" x2="867.32" y2="1372.4" stroke="#222" stroke-width="1.2"/>
<line x1="871.75" y1="1366.4" x2="871.75" y2="1368.6000000000001" stroke="#222" stroke-width="1.2"/>
<line x1="876.18" y1="1366.4" x2="876.18" y2="1368.6000000000001" stroke="#222" stroke-width="1.2"/>
<line x1="880.62" y1="1366.4" x2="880.62" y2="1368.6000000000001" stroke="#222" stroke-width="1.2"/>
<line x1="885.05" y1="1366.4" x2="885.05" y2="1368.6000000000001" stroke="#222" stroke-width="1.2"/>
<line x1="889.48" y1="1366.4" x2="889.48" y2="1372.4" stroke="#222" stroke-width="1.2"/>
<line x1="893.91" y1="1366.4" x2="893.91" y2="1368.6000000000001" stroke="#222" stroke-width="1.2"/>
<line x1="898.35" y1="1366.4" x2="898.35" y2="1368.6000000000001" stroke="#222" stroke-width="1.2"/>
<line x1="902.78" y1="1366.4" x2="902.78" y2="1368.6000000000001" stroke="#222" stroke-width="1.2"/>
<line x1="907.21" y1="1366.4" x2="907.21" y2="1368.6000000000001" stroke="#222" stroke-width="1.2"/>
<line x1="911.64" y1="1366.4" x2="911.64" y2="1374.4" stroke="#222" stroke-width="1.2"/>
<line x1="916.08" y1="1366.4" x2="916.08" y2="1368.6000000000001" stroke="#222" stroke-width="1.2"/>
<line x1="920.51" y1="1366.4" x2="920.51" y2="1368.6000000000001" stroke="#222" stroke-width="1.2"/>
<line x1="924.94" y1="1366.4" x2="924.94" y2="1368.6000000000001" stroke="#222" stroke-width="1.2"/>
<line x1="929.38" y1="1366.4" x2="929.38" y2="1368.6000000000001" stroke="#222" stroke-width="1.2"/>
<line x1="933.81" y1="1366.4" x2="933.81" y2="1372.4" stroke="#222" stroke-width="1.2"/>
<line x1="938.24" y1="1366.4" x2="938.24" y2="1368.6000000000001" stroke="#222" stroke-width="1.2"/>
<line x1="942.67" y1="1366.4" x2="942.67" y2="1368.6000000000001" stroke="#222" stroke-width="1.2"/>
<line x1="947.11" y1="1366.4" x2="947.11" y2="1368.6000000000001" stroke="#222" stroke-width="1.2"/>
<line x1="951.54" y1="1366.4" x2="951.54" y2="1368.6000000000001" stroke="#222" stroke-width="1.2"/>
<line x1="955.97" y1="1366.4" x2="955.97" y2="1372.4" stroke="#222" stroke-width="1.2"/>
<line x1="960.41" y1="1366.4" x2="960.41" y2="1368.6000000000001" stroke="#222" stroke-width="1.2"/>
<line x1="964.84" y1="1366.4" x2="964.84" y2="1368.6000000000001" stroke="#222" stroke-width="1.2"/>
<line x1="969.27" y1="1366.4" x2="969.27" y2="1368.6000000000001" stroke="#222" stroke-width="1.2"/>
<line x1="973.70" y1="1366.4" x2="973.70" y2="1368.6000000000001" stroke="#222" stroke-width="1.2"/>
<line x1="978.14" y1="1366.4" x2="978.14" y2="1372.4" stroke="#222" stroke-width="1.2"/>
<line x1="982.57" y1="1366.4" x2="982.57" y2="1368.6000000000001" stroke="#222" stroke-width="1.2"/>
<line x1="987.00" y1="1366.4" x2="987.00" y2="1368.6000000000001" stroke="#222" stroke-width="1.2"/>
<line x1="991.43" y1="1366.4" x2="991.43" y2="1368.6000000000001" stroke="#222" stroke-width="1.2"/>
<line x1="995.87" y1="1366.4" x2="995.87" y2="1368.6000000000001" stroke="#222" stroke-width="1.2"/>
<line x1="1000.30" y1="1366.4" x2="1000.30" y2="1374.4" stroke="#222" stroke-width="1.2"/>
<text x="113.75" y="1388.6" font-size="14" fill="#444" text-anchor="middle">0</text>
<text x="202.41" y="1388.6" font-size="14" fill="#444" text-anchor="middle">2</text>
<text x="291.06" y="1388.6" font-size="14" fill="#444" text-anchor="middle">4</text>
<text x="379.72" y="1388.6" font-size="14" fill="#444" text-anchor="middle">6</text>
<text x="468.37" y="1388.6" font-size="14" fill="#444" text-anchor="middle">8</text>
<text x="557.02" y="1388.6" font-size="14" fill="#444" text-anchor="middle">10</text>
<text x="645.68" y="1388.6" font-size="14" fill="#444" text-anchor="middle">12</text>
<text x="734.34" y="1388.6" font-size="14" fill="#444" text-anchor="middle">14</text>
<text x="822.99" y="1388.6" font-size="14" fill="#444" text-anchor="middle">16</text>
<text x="911.64" y="1388.6" font-size="14" fill="#444" text-anchor="middle">18</text>
<text x="1000.30" y="1388.6" font-size="14.5" font-weight="700" fill="#000" text-anchor="middle">20</text>
<rect x="132.4" y="917.3" width="160.6" height="41.6" fill="none" stroke="#333" stroke-width="1.5"/>
<rect x="132.1" y="1040.4" width="161.1" height="42.5" fill="none" stroke="#333" stroke-width="1.5"/>
<rect x="132.1" y="1155.4" width="161.1" height="42.5" fill="none" stroke="#333" stroke-width="1.5"/>
<rect x="132.1" y="1270.7" width="168.5" height="42.2" fill="none" stroke="#333" stroke-width="1.5"/>
<path d="M470.6,1017.8 L533.8,1017.8 L536.4,1014.3 L538.2,1005.5 L541.7,987.9 L543.9,982.6 L546.1,984.8 L548.7,993.2 L551.4,1001.1 L554.9,1009.9 L558.8,1014.3 L561.0,1009.9 L563.7,987.9 L566.3,968.6 L567.6,965.0 L571.6,972.1 L573.3,979.1 L575.5,996.7 L577.7,1007.2 L579.5,987.9 L581.2,952.7 L583.4,926.4 L585.6,910.5 L587.8,919.3 L590.0,923.7 L591.8,939.6 L593.6,961.5 L595.3,983.5 L597.1,1005.5 L599.7,1014.3 L602.3,1016.0 L608.5,1017.3 L643.0,1017.6" fill="none" stroke="#444" stroke-width="1.25" stroke-linejoin="round"/>
<path d="M470.0,1134.0 L547.8,1133.8 L550.7,1129.4 L553.7,1122.5 L557.1,1116.2 L559.5,1116.7 L562.0,1120.6 L563.9,1124.5 L566.4,1126.0 L569.3,1129.9 L572.2,1129.9 L577.1,1130.4 L582.0,1130.8 L585.9,1132.8 L590.8,1133.8 L602.5,1133.3 L606.4,1128.4 L608.4,1112.8 L610.3,1080.5 L612.8,1059.1 L614.7,1039.5 L616.2,1027.3 L617.6,1029.8 L619.1,1047.3 L620.6,1063.9 L622.5,1098.1 L625.0,1119.6 L627.9,1128.4 L631.8,1133.3 L640.0,1133.5 L777.3,1133.8" fill="none" stroke="#444" stroke-width="1.25" stroke-linejoin="round"/>
<path d="M470.7,1249.8 L630.0,1249.9 L632.5,1246.4 L634.5,1234.7 L636.2,1218.1 L637.9,1197.3 L639.5,1176.6 L640.8,1159.9 L642.4,1148.3 L643.7,1143.7 L644.9,1149.1 L646.6,1158.3 L648.3,1180.7 L649.9,1201.5 L652.0,1218.1 L654.1,1234.7 L656.6,1243.0 L660.7,1248.0 L665.3,1249.7 L706.0,1249.8 L709.0,1248.3 L713.0,1245.0 L717.0,1243.5 L721.0,1245.5 L725.0,1248.8 L728.0,1249.8 L1000.0,1249.8" fill="none" stroke="#444" stroke-width="1.25" stroke-linejoin="round"/>
<path d="M646.7,1366.2 L670.0,1366.2 L674.7,1365.4 L678.8,1360.2 L681.1,1343.8 L683.5,1314.5 L685.2,1291.0 L687.0,1271.1 L688.8,1259.4 L690.5,1267.6 L692.9,1282.8 L695.2,1302.7 L697.5,1326.2 L700.5,1346.1 L704.0,1359.0 L708.7,1363.1 L712.8,1362.5 L715.7,1355.5 L718.6,1349.0 L721.6,1347.3 L724.5,1352.0 L727.4,1359.0 L730.4,1362.5 L733.9,1359.6 L737.4,1353.7 L740.3,1352.5 L743.2,1355.5 L746.8,1361.3 L750.3,1364.3 L752.6,1366.0 L755.5,1364.3 L759.1,1355.5 L762.0,1337.9 L765.5,1321.5 L767.3,1323.8 L769.0,1323.2 L770.8,1332.0 L773.1,1343.8 L776.1,1355.5 L780.2,1363.7 L784.8,1365.4 L800.0,1366.2" fill="none" stroke="#444" stroke-width="1.25" stroke-linejoin="round"/>
<line x1="470" y1="1017.5" x2="534" y2="1017.5" stroke="#2a2a2a" stroke-width="1.9"/>
<line x1="602" y1="1017.5" x2="643.8" y2="1017.5" stroke="#2a2a2a" stroke-width="1.9"/>
<line x1="470" y1="1133.9" x2="548" y2="1133.9" stroke="#2a2a2a" stroke-width="1.9"/>
<line x1="631" y1="1133.9" x2="777.3" y2="1133.9" stroke="#2a2a2a" stroke-width="1.9"/>
<line x1="470.7" y1="1250" x2="630" y2="1250" stroke="#2a2a2a" stroke-width="1.9"/>
<line x1="665" y1="1250" x2="707" y2="1250" stroke="#2a2a2a" stroke-width="1.9"/>
<line x1="727" y1="1250" x2="1000" y2="1250" stroke="#2a2a2a" stroke-width="1.9"/>
<line x1="647" y1="1366.1" x2="676" y2="1366.1" stroke="#2a2a2a" stroke-width="1.9"/>
<line x1="494" y1="977.8" x2="534" y2="982.5" stroke="#222" stroke-width="1.4"/>
<line x1="535" y1="942" x2="559" y2="958" stroke="#222" stroke-width="1.4"/>
<line x1="616.3" y1="933.4" x2="592.5" y2="941.6" stroke="#222" stroke-width="1.4"/>
<line x1="535.3" y1="1094.5" x2="550.6" y2="1114" stroke="#222" stroke-width="1.4"/>
<line x1="648.3" y1="1048.7" x2="624.9" y2="1057.2" stroke="#222" stroke-width="1.4"/>
<line x1="617" y1="1172.6" x2="632.7" y2="1192.9" stroke="#222" stroke-width="1.4"/>
<line x1="730.9" y1="1214.2" x2="714.8" y2="1237.7" stroke="#222" stroke-width="1.4"/>
<line x1="665" y1="1286.6" x2="682" y2="1308.1" stroke="#222" stroke-width="1.4"/>
<line x1="731.7" y1="1287.8" x2="722.9" y2="1344" stroke="#222" stroke-width="1.4"/>
<line x1="788.9" y1="1312.3" x2="772.5" y2="1337" stroke="#222" stroke-width="1.4"/>
<text x="149.74" y="209.00" font-size="26" font-weight="400" fill="#111" textLength="136.48" lengthAdjust="spacingAndGlyphs">Sph (d17:1)</text>
<text x="226.03" y="63.40" font-size="26" font-weight="400" fill="#111" textLength="232.58" lengthAdjust="spacingAndGlyphs">GlcCer (d18:1/12:0)</text>
<text x="278.01" y="135.40" font-size="26" font-weight="400" fill="#111" textLength="193.04" lengthAdjust="spacingAndGlyphs">SM (d18:1/12:0)</text>
<text x="533.68" y="63.20" font-size="26" font-weight="400" fill="#111" textLength="163.15" lengthAdjust="spacingAndGlyphs">PtdCho (28:0)</text>
<text x="579.48" y="172.40" font-size="26" font-weight="400" fill="#111" textLength="155.04" lengthAdjust="spacingAndGlyphs">PtdEtn (28:0)</text>
<text x="561.42" y="244.70" font-size="26" font-weight="400" fill="#111" textLength="194.30" lengthAdjust="spacingAndGlyphs">Cer (d18:1/12:0)</text>
<text x="616.45" y="364.70" font-size="26" font-weight="400" fill="#111" textLength="128.25" lengthAdjust="spacingAndGlyphs">DAG (28:0)</text>
<text x="159.38" y="528.75" font-size="26" font-weight="400" fill="#111" textLength="134.60" lengthAdjust="spacingAndGlyphs">S1P (d17:1)</text>
<text x="293.73" y="498.00" font-size="26" font-weight="400" fill="#111" textLength="223.95" lengthAdjust="spacingAndGlyphs">Cer1P (d18:1/12:0)</text>
<text x="579.30" y="548.30" font-size="26" font-weight="400" fill="#111" textLength="154.32" lengthAdjust="spacingAndGlyphs">PtdSer (28:0)</text>
<text x="278.10" y="712.50" font-size="26" font-weight="400" fill="#111" textLength="212.24" lengthAdjust="spacingAndGlyphs">GM3 (d18:1/12:0)</text>
<text x="493.56" y="700.00" font-size="26" font-weight="400" fill="#111" textLength="160.48" lengthAdjust="spacingAndGlyphs">PtdGro (28:0)</text>
<text x="680.21" y="689.00" font-size="26" font-weight="400" fill="#111" textLength="152.04" lengthAdjust="spacingAndGlyphs">PtdOH (28:0)</text>
<text x="680.18" y="739.80" font-size="26" font-weight="400" fill="#111" textLength="150.24" lengthAdjust="spacingAndGlyphs">PtdIns (32:0)</text>
<text x="433.15" y="815.00" font-size="25" font-weight="400" fill="#111" textLength="249.48" lengthAdjust="spacingAndGlyphs">Retention Time (min)</text>
<text x="13.92" y="57.50" font-size="47" font-weight="400" fill="#000" textLength="20.59" lengthAdjust="spacingAndGlyphs">a</text>
<text x="12.17" y="908.60" font-size="43" font-weight="400" fill="#000" textLength="23.73" lengthAdjust="spacingAndGlyphs">b</text>
<text x="148.18" y="946.90" font-size="25" font-weight="400" fill="#111" textLength="128.86" lengthAdjust="spacingAndGlyphs">705.6/184.1</text>
<text x="148.38" y="1070.40" font-size="25" font-weight="400" fill="#111" textLength="129.17" lengthAdjust="spacingAndGlyphs">731.6/184.1</text>
<text x="148.38" y="1186.00" font-size="25" font-weight="400" fill="#111" textLength="129.17" lengthAdjust="spacingAndGlyphs">787.7/184.1</text>
<text x="154.33" y="1301.00" font-size="25" font-weight="400" fill="#111" textLength="128.01" lengthAdjust="spacingAndGlyphs">815.7/184.1</text>
<text x="388.01" y="932.80" font-size="18.7" font-weight="400" fill="#111" textLength="164.53" lengthAdjust="spacingAndGlyphs">SM (d18:1/16:0) + 2</text>
<text x="344.98" y="982.50" font-size="19" font-weight="400" fill="#111" textLength="142.47" lengthAdjust="spacingAndGlyphs">PtdCho (30:1) + 1</text>
<text x="617.71" y="930.00" font-size="23.5" font-weight="400" fill="#111" textLength="174.56" lengthAdjust="spacingAndGlyphs">SM (d18:0/16:0)</text>
<text x="398.86" y="1085.90" font-size="18.7" font-weight="400" fill="#111" textLength="142.59" lengthAdjust="spacingAndGlyphs">PtdCho (32:2) + 1</text>
<text x="651.15" y="1054.30" font-size="23" font-weight="400" fill="#111" textLength="173.65" lengthAdjust="spacingAndGlyphs">SM (d18:1/18:0)</text>
<text x="481.97" y="1165.00" font-size="19" font-weight="400" fill="#111" textLength="143.59" lengthAdjust="spacingAndGlyphs">PtdCho (36:2) + 1</text>
<text x="733.05" y="1210.30" font-size="23" font-weight="400" fill="#111" textLength="172.43" lengthAdjust="spacingAndGlyphs">SM (d18:1/22:0)</text>
<text x="521.95" y="1286.60" font-size="18.7" font-weight="400" fill="#111" textLength="143.20" lengthAdjust="spacingAndGlyphs">PtdCho (38:2) + 1</text>
<text x="708.83" y="1278.70" font-size="18" font-weight="400" fill="#111" textLength="163.74" lengthAdjust="spacingAndGlyphs">SM (d18:1/24:1) + 2</text>
<text x="790.53" y="1317.00" font-size="22.5" font-weight="400" fill="#111" textLength="173.41" lengthAdjust="spacingAndGlyphs">SM (d18:1/24:0)</text>
<text x="421.27" y="1423.30" font-size="22" font-weight="400" fill="#111" textLength="225.00" lengthAdjust="spacingAndGlyphs">Retention Time (min)</text>
<text transform="translate(62.00,533.09) rotate(-90)" x="0" y="0" font-size="26" fill="#111" textLength="228.51" lengthAdjust="spacingAndGlyphs">Relative Intensities</text>
<text transform="translate(55.60,1203.54) rotate(-90)" x="0" y="0" font-size="24.5" fill="#111" textLength="199.40" lengthAdjust="spacingAndGlyphs">Relative Intensities</text>
</svg></body></html>
